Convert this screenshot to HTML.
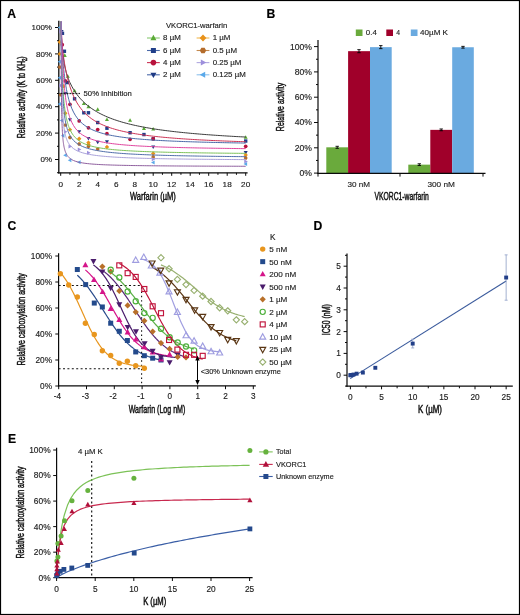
<!DOCTYPE html>
<html><head><meta charset="utf-8"><style>
html,body{margin:0;padding:0;background:#fff;overflow:hidden;}
#fig{position:relative;width:520px;height:615px;overflow:hidden;background:#fff;}
svg{position:absolute;left:0;top:0;will-change:transform;}
text{font-family:"Liberation Sans", sans-serif;}
</style></head><body><div id="fig">
<svg width="520" height="615" viewBox="0 0 520 615">
<rect x="0.5" y="0.5" width="519" height="614" fill="#fff" stroke="#000" stroke-width="1.2"/>
<text x="7.20" y="17.80" font-size="12.2" text-anchor="start" fill="#000" font-weight="bold" stroke="#000" stroke-width="0.15" >A</text>
<line x1="58.80" y1="20.80" x2="58.80" y2="173.40" stroke="#0a0a0a" stroke-width="1.3" />
<line x1="58.40" y1="172.80" x2="247.60" y2="172.80" stroke="#0a0a0a" stroke-width="1.2" />
<line x1="55.00" y1="159.50" x2="59.00" y2="159.50" stroke="#0a0a0a" stroke-width="1" />
<text x="52.00" y="162.10" font-size="7.4" text-anchor="end" fill="#222" font-weight="normal" textLength="11.56" lengthAdjust="spacingAndGlyphs" stroke="#222" stroke-width="0.15" >0%</text>
<line x1="55.00" y1="133.10" x2="59.00" y2="133.10" stroke="#0a0a0a" stroke-width="1" />
<text x="52.00" y="135.70" font-size="7.4" text-anchor="end" fill="#222" font-weight="normal" textLength="16.01" lengthAdjust="spacingAndGlyphs" stroke="#222" stroke-width="0.15" >20%</text>
<line x1="55.00" y1="106.70" x2="59.00" y2="106.70" stroke="#0a0a0a" stroke-width="1" />
<text x="52.00" y="109.30" font-size="7.4" text-anchor="end" fill="#222" font-weight="normal" textLength="16.01" lengthAdjust="spacingAndGlyphs" stroke="#222" stroke-width="0.15" >40%</text>
<line x1="55.00" y1="80.30" x2="59.00" y2="80.30" stroke="#0a0a0a" stroke-width="1" />
<text x="52.00" y="82.90" font-size="7.4" text-anchor="end" fill="#222" font-weight="normal" textLength="16.01" lengthAdjust="spacingAndGlyphs" stroke="#222" stroke-width="0.15" >60%</text>
<line x1="55.00" y1="53.90" x2="59.00" y2="53.90" stroke="#0a0a0a" stroke-width="1" />
<text x="52.00" y="56.50" font-size="7.4" text-anchor="end" fill="#222" font-weight="normal" textLength="16.01" lengthAdjust="spacingAndGlyphs" stroke="#222" stroke-width="0.15" >80%</text>
<line x1="55.00" y1="27.50" x2="59.00" y2="27.50" stroke="#0a0a0a" stroke-width="1" />
<text x="52.00" y="30.10" font-size="7.4" text-anchor="end" fill="#222" font-weight="normal" textLength="20.46" lengthAdjust="spacingAndGlyphs" stroke="#222" stroke-width="0.15" >100%</text>
<line x1="57.00" y1="172.70" x2="59.00" y2="172.70" stroke="#0a0a0a" stroke-width="1" />
<line x1="57.00" y1="146.30" x2="59.00" y2="146.30" stroke="#0a0a0a" stroke-width="1" />
<line x1="57.00" y1="119.90" x2="59.00" y2="119.90" stroke="#0a0a0a" stroke-width="1" />
<line x1="57.00" y1="93.50" x2="59.00" y2="93.50" stroke="#0a0a0a" stroke-width="1" />
<line x1="57.00" y1="67.10" x2="59.00" y2="67.10" stroke="#0a0a0a" stroke-width="1" />
<line x1="57.00" y1="40.70" x2="59.00" y2="40.70" stroke="#0a0a0a" stroke-width="1" />
<line x1="60.70" y1="172.80" x2="60.70" y2="175.80" stroke="#0a0a0a" stroke-width="1" />
<line x1="69.95" y1="172.80" x2="69.95" y2="174.80" stroke="#0a0a0a" stroke-width="1" />
<line x1="79.20" y1="172.80" x2="79.20" y2="175.80" stroke="#0a0a0a" stroke-width="1" />
<line x1="88.45" y1="172.80" x2="88.45" y2="174.80" stroke="#0a0a0a" stroke-width="1" />
<line x1="97.70" y1="172.80" x2="97.70" y2="175.80" stroke="#0a0a0a" stroke-width="1" />
<line x1="106.95" y1="172.80" x2="106.95" y2="174.80" stroke="#0a0a0a" stroke-width="1" />
<line x1="116.20" y1="172.80" x2="116.20" y2="175.80" stroke="#0a0a0a" stroke-width="1" />
<line x1="125.45" y1="172.80" x2="125.45" y2="174.80" stroke="#0a0a0a" stroke-width="1" />
<line x1="134.70" y1="172.80" x2="134.70" y2="175.80" stroke="#0a0a0a" stroke-width="1" />
<line x1="143.95" y1="172.80" x2="143.95" y2="174.80" stroke="#0a0a0a" stroke-width="1" />
<line x1="153.20" y1="172.80" x2="153.20" y2="175.80" stroke="#0a0a0a" stroke-width="1" />
<line x1="162.45" y1="172.80" x2="162.45" y2="174.80" stroke="#0a0a0a" stroke-width="1" />
<line x1="171.70" y1="172.80" x2="171.70" y2="175.80" stroke="#0a0a0a" stroke-width="1" />
<line x1="180.95" y1="172.80" x2="180.95" y2="174.80" stroke="#0a0a0a" stroke-width="1" />
<line x1="190.20" y1="172.80" x2="190.20" y2="175.80" stroke="#0a0a0a" stroke-width="1" />
<line x1="199.45" y1="172.80" x2="199.45" y2="174.80" stroke="#0a0a0a" stroke-width="1" />
<line x1="208.70" y1="172.80" x2="208.70" y2="175.80" stroke="#0a0a0a" stroke-width="1" />
<line x1="217.95" y1="172.80" x2="217.95" y2="174.80" stroke="#0a0a0a" stroke-width="1" />
<line x1="227.20" y1="172.80" x2="227.20" y2="175.80" stroke="#0a0a0a" stroke-width="1" />
<line x1="236.45" y1="172.80" x2="236.45" y2="174.80" stroke="#0a0a0a" stroke-width="1" />
<line x1="245.70" y1="172.80" x2="245.70" y2="175.80" stroke="#0a0a0a" stroke-width="1" />
<text x="60.70" y="186.70" font-size="7.4" text-anchor="middle" fill="#222" font-weight="normal" textLength="4.56" lengthAdjust="spacingAndGlyphs" stroke="#222" stroke-width="0.15" >0</text>
<text x="79.20" y="186.70" font-size="7.4" text-anchor="middle" fill="#222" font-weight="normal" textLength="4.56" lengthAdjust="spacingAndGlyphs" stroke="#222" stroke-width="0.15" >2</text>
<text x="97.70" y="186.70" font-size="7.4" text-anchor="middle" fill="#222" font-weight="normal" textLength="4.56" lengthAdjust="spacingAndGlyphs" stroke="#222" stroke-width="0.15" >4</text>
<text x="116.20" y="186.70" font-size="7.4" text-anchor="middle" fill="#222" font-weight="normal" textLength="4.56" lengthAdjust="spacingAndGlyphs" stroke="#222" stroke-width="0.15" >6</text>
<text x="134.70" y="186.70" font-size="7.4" text-anchor="middle" fill="#222" font-weight="normal" textLength="4.56" lengthAdjust="spacingAndGlyphs" stroke="#222" stroke-width="0.15" >8</text>
<text x="153.20" y="186.70" font-size="7.4" text-anchor="middle" fill="#222" font-weight="normal" textLength="9.12" lengthAdjust="spacingAndGlyphs" stroke="#222" stroke-width="0.15" >10</text>
<text x="171.70" y="186.70" font-size="7.4" text-anchor="middle" fill="#222" font-weight="normal" textLength="9.12" lengthAdjust="spacingAndGlyphs" stroke="#222" stroke-width="0.15" >12</text>
<text x="190.20" y="186.70" font-size="7.4" text-anchor="middle" fill="#222" font-weight="normal" textLength="9.12" lengthAdjust="spacingAndGlyphs" stroke="#222" stroke-width="0.15" >14</text>
<text x="208.70" y="186.70" font-size="7.4" text-anchor="middle" fill="#222" font-weight="normal" textLength="9.12" lengthAdjust="spacingAndGlyphs" stroke="#222" stroke-width="0.15" >16</text>
<text x="227.20" y="186.70" font-size="7.4" text-anchor="middle" fill="#222" font-weight="normal" textLength="9.12" lengthAdjust="spacingAndGlyphs" stroke="#222" stroke-width="0.15" >18</text>
<text x="245.70" y="186.70" font-size="7.4" text-anchor="middle" fill="#222" font-weight="normal" textLength="9.12" lengthAdjust="spacingAndGlyphs" stroke="#222" stroke-width="0.15" >20</text>
<text x="152.90" y="199.60" font-size="10.4" text-anchor="middle" fill="#111" font-weight="normal" textLength="45.80" lengthAdjust="spacingAndGlyphs" stroke="#111" stroke-width="0.45" >Warfarin (µM)</text>
<text transform="translate(21.20,97.30) rotate(-90)" x="0" y="3.82" font-size="10.6" text-anchor="middle" fill="#111" font-weight="normal" textLength="82.00" lengthAdjust="spacingAndGlyphs" stroke="#111" stroke-width="0.45">Relative activity (K to KH<tspan font-size="6.5" dy="1.8">2</tspan><tspan dy="-1.8">)</tspan></text>
<text x="83.60" y="96.20" font-size="7.7" text-anchor="start" fill="#222" font-weight="normal" textLength="48.20" lengthAdjust="spacingAndGlyphs" stroke="#222" stroke-width="0.15" >50% Inhibition</text>
<polygon points="64.77,53.32 66.77,56.92 62.77,56.92" fill="#5aaa35" stroke="none" stroke-width="0" stroke-linejoin="miter"/>
<polygon points="67.82,74.18 69.82,77.78 65.82,77.78" fill="#5aaa35" stroke="none" stroke-width="0" stroke-linejoin="miter"/>
<polygon points="74.58,88.70 76.58,92.30 72.58,92.30" fill="#5aaa35" stroke="none" stroke-width="0" stroke-linejoin="miter"/>
<polygon points="83.83,101.50 85.83,105.10 81.83,105.10" fill="#5aaa35" stroke="none" stroke-width="0" stroke-linejoin="miter"/>
<polygon points="88.45,104.54 90.45,108.14 86.45,108.14" fill="#5aaa35" stroke="none" stroke-width="0" stroke-linejoin="miter"/>
<polygon points="97.70,107.31 99.70,110.91 95.70,110.91" fill="#5aaa35" stroke="none" stroke-width="0" stroke-linejoin="miter"/>
<polygon points="106.95,117.48 108.95,121.08 104.95,121.08" fill="#5aaa35" stroke="none" stroke-width="0" stroke-linejoin="miter"/>
<polygon points="130.07,118.27 132.07,121.87 128.07,121.87" fill="#5aaa35" stroke="none" stroke-width="0" stroke-linejoin="miter"/>
<polygon points="143.95,126.32 145.95,129.92 141.95,129.92" fill="#5aaa35" stroke="none" stroke-width="0" stroke-linejoin="miter"/>
<polygon points="153.20,126.98 155.20,130.58 151.20,130.58" fill="#5aaa35" stroke="none" stroke-width="0" stroke-linejoin="miter"/>
<polygon points="245.70,135.16 247.70,138.76 243.70,138.76" fill="#5aaa35" stroke="none" stroke-width="0" stroke-linejoin="miter"/>
<rect x="60.76" y="31.61" width="3.4" height="3.4" fill="#213f8a" stroke="none" stroke-width="0"/>
<rect x="62.70" y="49.56" width="3.4" height="3.4" fill="#213f8a" stroke="none" stroke-width="0"/>
<rect x="65.66" y="80.84" width="3.4" height="3.4" fill="#213f8a" stroke="none" stroke-width="0"/>
<rect x="72.88" y="97.08" width="3.4" height="3.4" fill="#213f8a" stroke="none" stroke-width="0"/>
<rect x="82.12" y="111.07" width="3.4" height="3.4" fill="#213f8a" stroke="none" stroke-width="0"/>
<rect x="86.75" y="111.07" width="3.4" height="3.4" fill="#213f8a" stroke="none" stroke-width="0"/>
<rect x="96.00" y="120.84" width="3.4" height="3.4" fill="#213f8a" stroke="none" stroke-width="0"/>
<rect x="105.25" y="126.52" width="3.4" height="3.4" fill="#213f8a" stroke="none" stroke-width="0"/>
<rect x="128.38" y="131.00" width="3.4" height="3.4" fill="#213f8a" stroke="none" stroke-width="0"/>
<rect x="142.25" y="132.85" width="3.4" height="3.4" fill="#213f8a" stroke="none" stroke-width="0"/>
<rect x="151.50" y="137.08" width="3.4" height="3.4" fill="#213f8a" stroke="none" stroke-width="0"/>
<rect x="244.00" y="139.32" width="3.4" height="3.4" fill="#213f8a" stroke="none" stroke-width="0"/>
<circle cx="62.27" cy="44.66" r="1.85" fill="#b8123c" stroke="none" stroke-width="0"/>
<circle cx="65.33" cy="80.96" r="1.85" fill="#b8123c" stroke="none" stroke-width="0"/>
<circle cx="69.95" cy="104.32" r="1.85" fill="#b8123c" stroke="none" stroke-width="0"/>
<circle cx="79.20" cy="120.96" r="1.85" fill="#b8123c" stroke="none" stroke-width="0"/>
<circle cx="88.45" cy="127.82" r="1.85" fill="#b8123c" stroke="none" stroke-width="0"/>
<circle cx="97.70" cy="129.54" r="1.85" fill="#b8123c" stroke="none" stroke-width="0"/>
<circle cx="106.95" cy="133.63" r="1.85" fill="#b8123c" stroke="none" stroke-width="0"/>
<circle cx="130.07" cy="139.30" r="1.85" fill="#b8123c" stroke="none" stroke-width="0"/>
<circle cx="153.20" cy="138.78" r="1.85" fill="#b8123c" stroke="none" stroke-width="0"/>
<circle cx="245.70" cy="146.30" r="1.85" fill="#b8123c" stroke="none" stroke-width="0"/>
<polygon points="61.62,33.62 63.62,30.02 59.62,30.02" fill="#1e3a84" stroke="none" stroke-width="0" stroke-linejoin="miter"/>
<polygon points="65.33,95.66 67.33,92.06 63.33,92.06" fill="#1e3a84" stroke="none" stroke-width="0" stroke-linejoin="miter"/>
<polygon points="69.95,121.80 71.95,118.20 67.95,118.20" fill="#1e3a84" stroke="none" stroke-width="0" stroke-linejoin="miter"/>
<polygon points="79.20,133.94 81.20,130.34 77.20,130.34" fill="#1e3a84" stroke="none" stroke-width="0" stroke-linejoin="miter"/>
<polygon points="88.45,140.54 90.45,136.94 86.45,136.94" fill="#1e3a84" stroke="none" stroke-width="0" stroke-linejoin="miter"/>
<polygon points="97.70,144.24 99.70,140.64 95.70,140.64" fill="#1e3a84" stroke="none" stroke-width="0" stroke-linejoin="miter"/>
<polygon points="106.95,143.97 108.95,140.37 104.95,140.37" fill="#1e3a84" stroke="none" stroke-width="0" stroke-linejoin="miter"/>
<polygon points="153.20,149.12 155.20,145.52 151.20,145.52" fill="#1e3a84" stroke="none" stroke-width="0" stroke-linejoin="miter"/>
<polygon points="245.70,154.66 247.70,151.06 243.70,151.06" fill="#1e3a84" stroke="none" stroke-width="0" stroke-linejoin="miter"/>
<polygon points="59.78,39.82 61.98,42.02 59.78,44.22 57.58,42.02" fill="#e8921a" stroke="none" stroke-width="0" stroke-linejoin="miter"/>
<polygon points="59.78,51.70 61.98,53.90 59.78,56.10 57.58,53.90" fill="#e8921a" stroke="none" stroke-width="0" stroke-linejoin="miter"/>
<polygon points="63.29,84.04 65.49,86.24 63.29,88.44 61.09,86.24" fill="#e8921a" stroke="none" stroke-width="0" stroke-linejoin="miter"/>
<polygon points="65.33,111.10 67.53,113.30 65.33,115.50 63.12,113.30" fill="#e8921a" stroke="none" stroke-width="0" stroke-linejoin="miter"/>
<polygon points="69.95,127.47 72.15,129.67 69.95,131.87 67.75,129.67" fill="#e8921a" stroke="none" stroke-width="0" stroke-linejoin="miter"/>
<polygon points="79.20,136.58 81.40,138.78 79.20,140.98 77.00,138.78" fill="#e8921a" stroke="none" stroke-width="0" stroke-linejoin="miter"/>
<polygon points="88.45,142.25 90.65,144.45 88.45,146.65 86.25,144.45" fill="#e8921a" stroke="none" stroke-width="0" stroke-linejoin="miter"/>
<polygon points="88.45,140.40 90.65,142.60 88.45,144.80 86.25,142.60" fill="#e8921a" stroke="none" stroke-width="0" stroke-linejoin="miter"/>
<polygon points="106.95,144.76 109.15,146.96 106.95,149.16 104.75,146.96" fill="#e8921a" stroke="none" stroke-width="0" stroke-linejoin="miter"/>
<polygon points="153.20,151.36 155.40,153.56 153.20,155.76 151.00,153.56" fill="#e8921a" stroke="none" stroke-width="0" stroke-linejoin="miter"/>
<polygon points="245.70,152.81 247.90,155.01 245.70,157.21 243.50,155.01" fill="#e8921a" stroke="none" stroke-width="0" stroke-linejoin="miter"/>
<polygon points="61.73,67.10 60.75,68.79 58.80,68.79 57.83,67.10 58.80,65.41 60.75,65.41" fill="#b46c2c" stroke="none" stroke-width="0" stroke-linejoin="miter"/>
<polygon points="62.65,94.82 61.68,96.51 59.73,96.51 58.75,94.82 59.73,93.13 61.68,93.13" fill="#b46c2c" stroke="none" stroke-width="0" stroke-linejoin="miter"/>
<polygon points="67.28,125.18 66.30,126.87 64.35,126.87 63.38,125.18 64.35,123.49 66.30,123.49" fill="#b46c2c" stroke="none" stroke-width="0" stroke-linejoin="miter"/>
<polygon points="71.90,137.46 70.92,139.14 68.98,139.14 68.00,137.46 68.98,135.77 70.92,135.77" fill="#b46c2c" stroke="none" stroke-width="0" stroke-linejoin="miter"/>
<polygon points="81.15,144.06 80.17,145.74 78.23,145.74 77.25,144.06 78.23,142.37 80.17,142.37" fill="#b46c2c" stroke="none" stroke-width="0" stroke-linejoin="miter"/>
<polygon points="90.40,146.30 89.42,147.99 87.48,147.99 86.50,146.30 87.48,144.61 89.42,144.61" fill="#b46c2c" stroke="none" stroke-width="0" stroke-linejoin="miter"/>
<polygon points="99.65,148.94 98.67,150.63 96.73,150.63 95.75,148.94 96.73,147.25 98.67,147.25" fill="#b46c2c" stroke="none" stroke-width="0" stroke-linejoin="miter"/>
<polygon points="155.15,156.99 154.17,158.68 152.22,158.68 151.25,156.99 152.22,155.30 154.17,155.30" fill="#b46c2c" stroke="none" stroke-width="0" stroke-linejoin="miter"/>
<polygon points="247.65,158.05 246.67,159.74 244.72,159.74 243.75,158.05 244.72,156.36 246.67,156.36" fill="#b46c2c" stroke="none" stroke-width="0" stroke-linejoin="miter"/>
<polygon points="62.86,31.46 59.26,29.46 59.26,33.46" fill="#9d8fdc" stroke="none" stroke-width="0" stroke-linejoin="miter"/>
<polygon points="62.86,85.58 59.26,83.58 59.26,87.58" fill="#9d8fdc" stroke="none" stroke-width="0" stroke-linejoin="miter"/>
<polygon points="67.48,131.78 63.89,129.78 63.89,133.78" fill="#9d8fdc" stroke="none" stroke-width="0" stroke-linejoin="miter"/>
<polygon points="72.11,146.56 68.51,144.56 68.51,148.56" fill="#9d8fdc" stroke="none" stroke-width="0" stroke-linejoin="miter"/>
<polygon points="81.36,149.60 77.76,147.60 77.76,151.60" fill="#9d8fdc" stroke="none" stroke-width="0" stroke-linejoin="miter"/>
<polygon points="90.61,152.77 87.01,150.77 87.01,154.77" fill="#9d8fdc" stroke="none" stroke-width="0" stroke-linejoin="miter"/>
<polygon points="155.36,159.24 151.76,157.24 151.76,161.24" fill="#9d8fdc" stroke="none" stroke-width="0" stroke-linejoin="miter"/>
<polygon points="247.86,161.48 244.26,159.48 244.26,163.48" fill="#9d8fdc" stroke="none" stroke-width="0" stroke-linejoin="miter"/>
<polygon points="57.62,27.50 61.22,25.50 61.22,29.50" fill="#5aa9ea" stroke="none" stroke-width="0" stroke-linejoin="miter"/>
<polygon points="57.62,61.82 61.22,59.82 61.22,63.82" fill="#5aa9ea" stroke="none" stroke-width="0" stroke-linejoin="miter"/>
<polygon points="57.62,77.66 61.22,75.66 61.22,79.66" fill="#5aa9ea" stroke="none" stroke-width="0" stroke-linejoin="miter"/>
<polygon points="57.62,104.06 61.22,102.06 61.22,106.06" fill="#5aa9ea" stroke="none" stroke-width="0" stroke-linejoin="miter"/>
<polygon points="59.74,120.56 63.34,118.56 63.34,122.56" fill="#5aa9ea" stroke="none" stroke-width="0" stroke-linejoin="miter"/>
<polygon points="60.85,135.74 64.45,133.74 64.45,137.74" fill="#5aa9ea" stroke="none" stroke-width="0" stroke-linejoin="miter"/>
<polygon points="63.17,155.14 66.77,153.14 66.77,157.14" fill="#5aa9ea" stroke="none" stroke-width="0" stroke-linejoin="miter"/>
<polygon points="67.79,160.29 71.39,158.29 71.39,162.29" fill="#5aa9ea" stroke="none" stroke-width="0" stroke-linejoin="miter"/>
<polygon points="77.04,162.27 80.64,160.27 80.64,164.27" fill="#5aa9ea" stroke="none" stroke-width="0" stroke-linejoin="miter"/>
<polygon points="151.04,162.40 154.64,160.40 154.64,164.40" fill="#5aa9ea" stroke="none" stroke-width="0" stroke-linejoin="miter"/>
<polygon points="243.54,163.99 247.14,161.99 247.14,165.99" fill="#5aa9ea" stroke="none" stroke-width="0" stroke-linejoin="miter"/>
<path d="M61.00,21.56 L61.00,21.86 L61.02,22.37 L61.03,22.88 L61.05,23.41 L61.06,23.96 L61.08,24.52 L61.10,25.09 L61.12,25.68 L61.14,26.29 L61.16,26.91 L61.18,27.54 L61.20,28.19 L61.22,28.85 L61.25,29.53 L61.28,30.22 L61.30,30.93 L61.33,31.64 L61.36,32.37 L61.39,33.12 L61.43,33.87 L61.46,34.64 L61.50,35.42 L61.53,36.21 L61.57,37.01 L61.61,37.82 L61.66,38.64 L61.70,39.46 L61.75,40.30 L61.80,41.14 L61.85,41.99 L61.91,42.85 L61.96,43.72 L62.02,44.59 L62.09,45.46 L62.15,46.34 L62.22,47.22 L62.29,48.11 L62.37,49.00 L62.45,49.89 L62.53,50.78 L62.62,51.68 L62.71,52.58 L62.80,53.47 L62.90,54.37 L63.01,55.27 L63.12,56.17 L63.23,57.07 L63.35,57.97 L63.48,58.87 L63.61,59.77 L63.75,60.67 L63.89,61.57 L64.04,62.47 L64.20,63.37 L64.37,64.27 L64.54,65.16 L64.72,66.06 L64.91,66.96 L65.11,67.86 L65.32,68.76 L65.54,69.67 L65.77,70.57 L66.01,71.47 L66.26,72.38 L66.52,73.29 L66.80,74.20 L67.09,75.12 L67.39,76.04 L67.71,76.96 L68.04,77.88 L68.39,78.81 L68.75,79.75 L69.13,80.69 L69.53,81.63 L69.95,82.58 L71.73,86.21 L73.50,89.36 L75.28,92.14 L77.05,94.63 L78.83,96.87 L80.60,98.91 L82.38,100.78 L84.15,102.50 L85.93,104.10 L87.70,105.57 L89.48,106.95 L91.25,108.24 L93.03,109.44 L94.80,110.57 L96.58,111.64 L98.35,112.64 L100.13,113.59 L101.90,114.48 L103.68,115.34 L105.46,116.14 L107.23,116.91 L109.01,117.64 L110.78,118.34 L112.56,119.00 L114.33,119.64 L116.11,120.24 L117.88,120.82 L119.66,121.38 L121.43,121.91 L123.21,122.43 L124.98,122.92 L126.76,123.39 L128.53,123.85 L130.31,124.29 L132.08,124.71 L133.86,125.12 L135.63,125.51 L137.41,125.89 L139.18,126.26 L140.96,126.62 L142.74,126.96 L144.51,127.29 L146.29,127.61 L148.06,127.93 L149.84,128.23 L151.61,128.52 L153.39,128.81 L155.16,129.08 L156.94,129.35 L158.71,129.61 L160.49,129.87 L162.26,130.11 L164.04,130.35 L165.81,130.59 L167.59,130.81 L169.36,131.03 L171.14,131.25 L172.91,131.46 L174.69,131.66 L176.47,131.86 L178.24,132.06 L180.02,132.25 L181.79,132.43 L183.57,132.61 L185.34,132.79 L187.12,132.96 L188.89,133.13 L190.67,133.30 L192.44,133.46 L194.22,133.62 L195.99,133.77 L197.77,133.92 L199.54,134.07 L201.32,134.21 L203.09,134.36 L204.87,134.49 L206.64,134.63 L208.42,134.76 L210.19,134.89 L211.97,135.02 L213.75,135.15 L215.52,135.27 L217.30,135.39 L219.07,135.51 L220.85,135.62 L222.62,135.74 L224.40,135.85 L226.17,135.96 L227.95,136.07 L229.72,136.17 L231.50,136.28 L233.27,136.38 L235.05,136.48 L236.82,136.58 L238.60,136.67 L240.37,136.77 L242.15,136.86 L243.92,136.95 L245.70,137.04" stroke="#3a3a3a" stroke-width="1.0" fill="none" stroke-linejoin="round" />
<path d="M60.92,21.56 L60.92,21.61 L60.93,22.36 L60.94,23.10 L60.95,23.80 L60.96,24.49 L60.97,25.16 L60.99,25.81 L61.00,26.44 L61.02,27.05 L61.03,27.65 L61.05,28.24 L61.06,28.82 L61.08,29.38 L61.10,29.93 L61.12,30.48 L61.14,31.02 L61.16,31.55 L61.18,32.07 L61.20,32.59 L61.22,33.11 L61.25,33.62 L61.28,34.14 L61.30,34.65 L61.33,35.16 L61.36,35.67 L61.39,36.18 L61.43,36.70 L61.46,37.22 L61.50,37.75 L61.53,38.28 L61.57,38.81 L61.61,39.35 L61.66,39.91 L61.70,40.47 L61.75,41.03 L61.80,41.61 L61.85,42.20 L61.91,42.80 L61.96,43.42 L62.02,44.04 L62.09,44.68 L62.15,45.34 L62.22,46.01 L62.29,46.69 L62.37,47.40 L62.45,48.12 L62.53,48.85 L62.62,49.61 L62.71,50.38 L62.80,51.17 L62.90,51.98 L63.01,52.82 L63.12,53.67 L63.23,54.54 L63.35,55.43 L63.48,56.35 L63.61,57.28 L63.75,58.24 L63.89,59.21 L64.04,60.21 L64.20,61.23 L64.37,62.27 L64.54,63.33 L64.72,64.42 L64.91,65.52 L65.11,66.64 L65.32,67.78 L65.54,68.94 L65.77,70.12 L66.01,71.32 L66.26,72.53 L66.52,73.76 L66.80,75.00 L67.09,76.26 L67.39,77.53 L67.71,78.82 L68.04,80.11 L68.39,81.41 L68.75,82.73 L69.13,84.05 L69.53,85.37 L69.95,86.70 L71.73,91.77 L73.50,96.05 L75.28,99.73 L77.05,102.92 L78.83,105.71 L80.60,108.18 L82.38,110.37 L84.15,112.34 L85.93,114.11 L87.70,115.71 L89.48,117.17 L91.25,118.50 L93.03,119.72 L94.80,120.84 L96.58,121.88 L98.35,122.84 L100.13,123.73 L101.90,124.56 L103.68,125.34 L105.46,126.06 L107.23,126.74 L109.01,127.38 L110.78,127.99 L112.56,128.55 L114.33,129.09 L116.11,129.60 L117.88,130.08 L119.66,130.54 L121.43,130.97 L123.21,131.38 L124.98,131.78 L126.76,132.15 L128.53,132.51 L130.31,132.85 L132.08,133.18 L133.86,133.49 L135.63,133.79 L137.41,134.08 L139.18,134.35 L140.96,134.62 L142.74,134.88 L144.51,135.12 L146.29,135.36 L148.06,135.59 L149.84,135.81 L151.61,136.02 L153.39,136.22 L155.16,136.42 L156.94,136.61 L158.71,136.80 L160.49,136.98 L162.26,137.15 L164.04,137.32 L165.81,137.48 L167.59,137.64 L169.36,137.80 L171.14,137.94 L172.91,138.09 L174.69,138.23 L176.47,138.37 L178.24,138.50 L180.02,138.63 L181.79,138.75 L183.57,138.88 L185.34,138.99 L187.12,139.11 L188.89,139.22 L190.67,139.33 L192.44,139.44 L194.22,139.55 L195.99,139.65 L197.77,139.75 L199.54,139.85 L201.32,139.94 L203.09,140.03 L204.87,140.12 L206.64,140.21 L208.42,140.30 L210.19,140.38 L211.97,140.47 L213.75,140.55 L215.52,140.63 L217.30,140.71 L219.07,140.78 L220.85,140.86 L222.62,140.93 L224.40,141.00 L226.17,141.07 L227.95,141.14 L229.72,141.21 L231.50,141.27 L233.27,141.34 L235.05,141.40 L236.82,141.46 L238.60,141.52 L240.37,141.58 L242.15,141.64 L243.92,141.70 L245.70,141.76" stroke="#cc3355" stroke-width="1.0" fill="none" stroke-linejoin="round" />
<path d="M60.94,21.56 L60.94,21.75 L60.95,22.27 L60.96,22.78 L60.97,23.29 L60.99,23.81 L61.00,24.33 L61.02,24.85 L61.03,25.38 L61.05,25.91 L61.06,26.45 L61.08,27.00 L61.10,27.56 L61.12,28.12 L61.14,28.70 L61.16,29.28 L61.18,29.88 L61.20,30.49 L61.22,31.11 L61.25,31.75 L61.28,32.40 L61.30,33.07 L61.33,33.75 L61.36,34.45 L61.39,35.17 L61.43,35.90 L61.46,36.65 L61.50,37.43 L61.53,38.22 L61.57,39.03 L61.61,39.87 L61.66,40.72 L61.70,41.60 L61.75,42.50 L61.80,43.42 L61.85,44.36 L61.91,45.33 L61.96,46.32 L62.02,47.34 L62.09,48.38 L62.15,49.44 L62.22,50.53 L62.29,51.64 L62.37,52.77 L62.45,53.93 L62.53,55.10 L62.62,56.31 L62.71,57.53 L62.80,58.77 L62.90,60.04 L63.01,61.32 L63.12,62.63 L63.23,63.95 L63.35,65.29 L63.48,66.65 L63.61,68.02 L63.75,69.41 L63.89,70.81 L64.04,72.23 L64.20,73.65 L64.37,75.08 L64.54,76.52 L64.72,77.97 L64.91,79.42 L65.11,80.88 L65.32,82.34 L65.54,83.79 L65.77,85.25 L66.01,86.71 L66.26,88.16 L66.52,89.61 L66.80,91.04 L67.09,92.48 L67.39,93.90 L67.71,95.31 L68.04,96.70 L68.39,98.09 L68.75,99.45 L69.13,100.81 L69.53,102.14 L69.95,103.46 L71.73,108.27 L73.50,112.10 L75.28,115.24 L77.05,117.84 L78.83,120.04 L80.60,121.93 L82.38,123.56 L84.15,124.98 L85.93,126.24 L87.70,127.36 L89.48,128.36 L91.25,129.26 L93.03,130.07 L94.80,130.81 L96.58,131.48 L98.35,132.10 L100.13,132.67 L101.90,133.19 L103.68,133.68 L105.46,134.13 L107.23,134.54 L109.01,134.94 L110.78,135.30 L112.56,135.64 L114.33,135.97 L116.11,136.27 L117.88,136.55 L119.66,136.82 L121.43,137.08 L123.21,137.32 L124.98,137.55 L126.76,137.77 L128.53,137.98 L130.31,138.17 L132.08,138.36 L133.86,138.54 L135.63,138.71 L137.41,138.88 L139.18,139.03 L140.96,139.18 L142.74,139.33 L144.51,139.47 L146.29,139.60 L148.06,139.73 L149.84,139.85 L151.61,139.97 L153.39,140.08 L155.16,140.19 L156.94,140.30 L158.71,140.40 L160.49,140.50 L162.26,140.60 L164.04,140.69 L165.81,140.78 L167.59,140.86 L169.36,140.95 L171.14,141.03 L172.91,141.11 L174.69,141.19 L176.47,141.26 L178.24,141.33 L180.02,141.40 L181.79,141.47 L183.57,141.54 L185.34,141.60 L187.12,141.66 L188.89,141.73 L190.67,141.78 L192.44,141.84 L194.22,141.90 L195.99,141.95 L197.77,142.01 L199.54,142.06 L201.32,142.11 L203.09,142.16 L204.87,142.21 L206.64,142.26 L208.42,142.30 L210.19,142.35 L211.97,142.39 L213.75,142.44 L215.52,142.48 L217.30,142.52 L219.07,142.56 L220.85,142.60 L222.62,142.64 L224.40,142.68 L226.17,142.71 L227.95,142.75 L229.72,142.79 L231.50,142.82 L233.27,142.85 L235.05,142.89 L236.82,142.92 L238.60,142.95 L240.37,142.98 L242.15,143.02 L243.92,143.05 L245.70,143.08" stroke="#4a69a8" stroke-width="1.0" fill="none" stroke-linejoin="round" />
<path d="M61.39,21.56 L61.39,22.84 L61.43,24.24 L61.46,25.67 L61.50,27.14 L61.53,28.64 L61.57,30.18 L61.61,31.74 L61.66,33.34 L61.70,34.96 L61.75,36.62 L61.80,38.30 L61.85,40.01 L61.91,41.75 L61.96,43.51 L62.02,45.30 L62.09,47.10 L62.15,48.93 L62.22,50.78 L62.29,52.64 L62.37,54.52 L62.45,56.41 L62.53,58.31 L62.62,60.23 L62.71,62.15 L62.80,64.07 L62.90,66.00 L63.01,67.93 L63.12,69.86 L63.23,71.79 L63.35,73.71 L63.48,75.62 L63.61,77.53 L63.75,79.42 L63.89,81.31 L64.04,83.17 L64.20,85.03 L64.37,86.86 L64.54,88.67 L64.72,90.46 L64.91,92.23 L65.11,93.98 L65.32,95.70 L65.54,97.39 L65.77,99.05 L66.01,100.69 L66.26,102.29 L66.52,103.87 L66.80,105.41 L67.09,106.92 L67.39,108.40 L67.71,109.84 L68.04,111.25 L68.39,112.63 L68.75,113.97 L69.13,115.27 L69.53,116.55 L69.95,117.79 L71.73,122.18 L73.50,125.53 L75.28,128.18 L77.05,130.32 L78.83,132.09 L80.60,133.58 L82.38,134.85 L84.15,135.94 L85.93,136.89 L87.70,137.72 L89.48,138.46 L91.25,139.12 L93.03,139.71 L94.80,140.25 L96.58,140.73 L98.35,141.17 L100.13,141.58 L101.90,141.95 L103.68,142.29 L105.46,142.61 L107.23,142.90 L109.01,143.17 L110.78,143.43 L112.56,143.66 L114.33,143.88 L116.11,144.09 L117.88,144.29 L119.66,144.47 L121.43,144.65 L123.21,144.81 L124.98,144.97 L126.76,145.12 L128.53,145.26 L130.31,145.39 L132.08,145.52 L133.86,145.64 L135.63,145.75 L137.41,145.86 L139.18,145.97 L140.96,146.07 L142.74,146.17 L144.51,146.26 L146.29,146.35 L148.06,146.43 L149.84,146.52 L151.61,146.59 L153.39,146.67 L155.16,146.74 L156.94,146.81 L158.71,146.88 L160.49,146.95 L162.26,147.01 L164.04,147.07 L165.81,147.13 L167.59,147.19 L169.36,147.25 L171.14,147.30 L172.91,147.35 L174.69,147.40 L176.47,147.45 L178.24,147.50 L180.02,147.54 L181.79,147.59 L183.57,147.63 L185.34,147.67 L187.12,147.72 L188.89,147.76 L190.67,147.79 L192.44,147.83 L194.22,147.87 L195.99,147.91 L197.77,147.94 L199.54,147.98 L201.32,148.01 L203.09,148.04 L204.87,148.07 L206.64,148.10 L208.42,148.13 L210.19,148.16 L211.97,148.19 L213.75,148.22 L215.52,148.25 L217.30,148.27 L219.07,148.30 L220.85,148.33 L222.62,148.35 L224.40,148.38 L226.17,148.40 L227.95,148.42 L229.72,148.45 L231.50,148.47 L233.27,148.49 L235.05,148.51 L236.82,148.54 L238.60,148.56 L240.37,148.58 L242.15,148.60 L243.92,148.62 L245.70,148.64" stroke="#e0449e" stroke-width="1.0" fill="none" stroke-linejoin="round" />
<path d="M60.70,21.56 L60.70,21.56 L60.70,21.57 L60.70,21.57 L60.70,21.58 L60.70,21.58 L60.70,21.59 L60.70,21.59 L60.70,21.60 L60.70,21.60 L60.70,21.61 L60.70,21.61 L60.70,21.62 L60.70,21.62 L60.70,21.63 L60.70,21.64 L60.70,21.65 L60.70,21.65 L60.70,21.66 L60.70,21.67 L60.70,21.68 L60.70,21.69 L60.70,21.70 L60.70,21.71 L60.70,21.72 L60.70,21.73 L60.70,21.74 L60.70,21.76 L60.70,21.77 L60.70,21.78 L60.71,21.80 L60.71,21.81 L60.71,21.83 L60.71,21.84 L60.71,21.86 L60.71,21.88 L60.71,21.90 L60.71,21.92 L60.71,21.94 L60.71,21.96 L60.71,21.98 L60.71,22.00 L60.71,22.03 L60.71,22.05 L60.71,22.08 L60.71,22.11 L60.71,22.14 L60.71,22.17 L60.71,22.20 L60.71,22.24 L60.71,22.27 L60.71,22.31 L60.71,22.35 L60.71,22.39 L60.72,22.43 L60.72,22.48 L60.72,22.52 L60.72,22.57 L60.72,22.62 L60.72,22.68 L60.72,22.73 L60.72,22.79 L60.72,22.85 L60.72,22.92 L60.72,22.99 L60.73,23.06 L60.73,23.13 L60.73,23.21 L60.73,23.29 L60.73,23.37 L60.73,23.46 L60.73,23.55 L60.74,23.65 L60.74,23.75 L60.74,23.86 L60.74,23.97 L60.74,24.08 L60.75,24.20 L60.75,24.33 L60.75,24.46 L60.75,24.60 L60.75,24.74 L60.76,24.89 L60.76,25.05 L60.76,25.21 L60.77,25.39 L60.77,25.57 L60.77,25.75 L60.78,25.95 L60.78,26.15 L60.78,26.37 L60.79,26.59 L60.79,26.82 L60.79,27.06 L60.80,27.32 L60.80,27.58 L60.81,27.85 L60.81,28.14 L60.82,28.44 L60.82,28.75 L60.83,29.08 L60.84,29.41 L60.84,29.77 L60.85,30.13 L60.86,30.52 L60.86,30.91 L60.87,31.33 L60.88,31.76 L60.89,32.21 L60.90,32.67 L60.91,33.16 L60.92,33.66 L60.93,34.18 L60.94,34.72 L60.95,35.28 L60.96,35.87 L60.97,36.47 L60.99,37.10 L61.00,37.75 L61.02,38.42 L61.03,39.12 L61.05,39.84 L61.06,40.58 L61.08,41.35 L61.10,42.15 L61.12,42.97 L61.14,43.82 L61.16,44.69 L61.18,45.59 L61.20,46.52 L61.22,47.48 L61.25,48.46 L61.28,49.47 L61.30,50.51 L61.33,51.57 L61.36,52.66 L61.39,53.78 L61.43,54.93 L61.46,56.10 L61.50,57.30 L61.53,58.53 L61.57,59.78 L61.61,61.06 L61.66,62.36 L61.70,63.68 L61.75,65.03 L61.80,66.39 L61.85,67.78 L61.91,69.19 L61.96,70.62 L62.02,72.07 L62.09,73.53 L62.15,75.00 L62.22,76.49 L62.29,78.00 L62.37,79.51 L62.45,81.03 L62.53,82.56 L62.62,84.10 L62.71,85.64 L62.80,87.18 L62.90,88.72 L63.01,90.27 L63.12,91.81 L63.23,93.34 L63.35,94.88 L63.48,96.40 L63.61,97.92 L63.75,99.42 L63.89,100.92 L64.04,102.40 L64.20,103.86 L64.37,105.31 L64.54,106.75 L64.72,108.16 L64.91,109.56 L65.11,110.93 L65.32,112.29 L65.54,113.62 L65.77,114.93 L66.01,116.21 L66.26,117.47 L66.52,118.70 L66.80,119.91 L67.09,121.09 L67.39,122.25 L67.71,123.38 L68.04,124.48 L68.39,125.55 L68.75,126.60 L69.13,127.61 L69.53,128.61 L69.95,129.57 L71.73,132.98 L73.50,135.58 L75.28,137.63 L77.05,139.29 L78.83,140.65 L80.60,141.80 L82.38,142.78 L84.15,143.62 L85.93,144.35 L87.70,144.99 L89.48,145.56 L91.25,146.07 L93.03,146.52 L94.80,146.93 L96.58,147.30 L98.35,147.64 L100.13,147.95 L101.90,148.24 L103.68,148.50 L105.46,148.74 L107.23,148.97 L109.01,149.18 L110.78,149.37 L112.56,149.55 L114.33,149.72 L116.11,149.88 L117.88,150.03 L119.66,150.18 L121.43,150.31 L123.21,150.44 L124.98,150.56 L126.76,150.67 L128.53,150.78 L130.31,150.88 L132.08,150.98 L133.86,151.07 L135.63,151.16 L137.41,151.24 L139.18,151.32 L140.96,151.40 L142.74,151.47 L144.51,151.54 L146.29,151.61 L148.06,151.68 L149.84,151.74 L151.61,151.80 L153.39,151.86 L155.16,151.91 L156.94,151.97 L158.71,152.02 L160.49,152.07 L162.26,152.12 L164.04,152.17 L165.81,152.21 L167.59,152.26 L169.36,152.30 L171.14,152.34 L172.91,152.38 L174.69,152.42 L176.47,152.46 L178.24,152.49 L180.02,152.53 L181.79,152.56 L183.57,152.60 L185.34,152.63 L187.12,152.66 L188.89,152.69 L190.67,152.72 L192.44,152.75 L194.22,152.78 L195.99,152.80 L197.77,152.83 L199.54,152.86 L201.32,152.88 L203.09,152.91 L204.87,152.93 L206.64,152.96 L208.42,152.98 L210.19,153.00 L211.97,153.02 L213.75,153.05 L215.52,153.07 L217.30,153.09 L219.07,153.11 L220.85,153.13 L222.62,153.15 L224.40,153.16 L226.17,153.18 L227.95,153.20 L229.72,153.22 L231.50,153.24 L233.27,153.25 L235.05,153.27 L236.82,153.29 L238.60,153.30 L240.37,153.32 L242.15,153.33 L243.92,153.35 L245.70,153.36" stroke="#7dc25a" stroke-width="1.0" fill="none" stroke-linejoin="round" />
<path d="M61.18,21.56 L61.18,21.96 L61.20,24.28 L61.22,26.61 L61.25,28.97 L61.28,31.33 L61.30,33.72 L61.33,36.11 L61.36,38.51 L61.39,40.92 L61.43,43.33 L61.46,45.74 L61.50,48.15 L61.53,50.56 L61.57,52.96 L61.61,55.35 L61.66,57.73 L61.70,60.10 L61.75,62.45 L61.80,64.78 L61.85,67.09 L61.91,69.38 L61.96,71.64 L62.02,73.88 L62.09,76.09 L62.15,78.28 L62.22,80.43 L62.29,82.54 L62.37,84.63 L62.45,86.68 L62.53,88.69 L62.62,90.67 L62.71,92.60 L62.80,94.50 L62.90,96.36 L63.01,98.18 L63.12,99.97 L63.23,101.71 L63.35,103.41 L63.48,105.07 L63.61,106.69 L63.75,108.27 L63.89,109.81 L64.04,111.31 L64.20,112.77 L64.37,114.20 L64.54,115.58 L64.72,116.93 L64.91,118.24 L65.11,119.51 L65.32,120.74 L65.54,121.95 L65.77,123.11 L66.01,124.25 L66.26,125.35 L66.52,126.41 L66.80,127.45 L67.09,128.45 L67.39,129.43 L67.71,130.38 L68.04,131.29 L68.39,132.19 L68.75,133.05 L69.13,133.89 L69.53,134.70 L69.95,135.49 L71.73,138.27 L73.50,140.39 L75.28,142.07 L77.05,143.45 L78.83,144.59 L80.60,145.57 L82.38,146.40 L84.15,147.13 L85.93,147.78 L87.70,148.35 L89.48,148.86 L91.25,149.32 L93.03,149.73 L94.80,150.11 L96.58,150.46 L98.35,150.78 L100.13,151.07 L101.90,151.34 L103.68,151.59 L105.46,151.83 L107.23,152.05 L109.01,152.25 L110.78,152.44 L112.56,152.62 L114.33,152.79 L116.11,152.95 L117.88,153.10 L119.66,153.25 L121.43,153.38 L123.21,153.51 L124.98,153.63 L126.76,153.75 L128.53,153.86 L130.31,153.97 L132.08,154.07 L133.86,154.16 L135.63,154.26 L137.41,154.35 L139.18,154.43 L140.96,154.51 L142.74,154.59 L144.51,154.67 L146.29,154.74 L148.06,154.81 L149.84,154.88 L151.61,154.94 L153.39,155.00 L155.16,155.06 L156.94,155.12 L158.71,155.18 L160.49,155.23 L162.26,155.29 L164.04,155.34 L165.81,155.39 L167.59,155.43 L169.36,155.48 L171.14,155.53 L172.91,155.57 L174.69,155.61 L176.47,155.65 L178.24,155.69 L180.02,155.73 L181.79,155.77 L183.57,155.81 L185.34,155.84 L187.12,155.88 L188.89,155.91 L190.67,155.95 L192.44,155.98 L194.22,156.01 L195.99,156.04 L197.77,156.07 L199.54,156.10 L201.32,156.13 L203.09,156.16 L204.87,156.18 L206.64,156.21 L208.42,156.24 L210.19,156.26 L211.97,156.29 L213.75,156.31 L215.52,156.33 L217.30,156.36 L219.07,156.38 L220.85,156.40 L222.62,156.42 L224.40,156.45 L226.17,156.47 L227.95,156.49 L229.72,156.51 L231.50,156.53 L233.27,156.55 L235.05,156.57 L236.82,156.58 L238.60,156.60 L240.37,156.62 L242.15,156.64 L243.92,156.66 L245.70,156.67" stroke="#4f6daa" stroke-width="1.0" fill="none" stroke-linejoin="round" />
<path d="M61.16,21.56 L61.16,22.72 L61.18,26.81 L61.20,30.83 L61.22,34.76 L61.25,38.61 L61.28,42.38 L61.30,46.06 L61.33,49.65 L61.36,53.16 L61.39,56.59 L61.43,59.92 L61.46,63.17 L61.50,66.33 L61.53,69.41 L61.57,72.40 L61.61,75.31 L61.66,78.13 L61.70,80.87 L61.75,83.52 L61.80,86.10 L61.85,88.60 L61.91,91.02 L61.96,93.36 L62.02,95.63 L62.09,97.82 L62.15,99.94 L62.22,102.00 L62.29,103.98 L62.37,105.90 L62.45,107.75 L62.53,109.55 L62.62,111.28 L62.71,112.95 L62.80,114.56 L62.90,116.12 L63.01,117.62 L63.12,119.07 L63.23,120.47 L63.35,121.83 L63.48,123.13 L63.61,124.39 L63.75,125.61 L63.89,126.78 L64.04,127.92 L64.20,129.01 L64.37,130.07 L64.54,131.09 L64.72,132.08 L64.91,133.03 L65.11,133.95 L65.32,134.84 L65.54,135.70 L65.77,136.53 L66.01,137.34 L66.26,138.12 L66.52,138.87 L66.80,139.60 L67.09,140.30 L67.39,140.98 L67.71,141.64 L68.04,142.28 L68.39,142.90 L68.75,143.50 L69.13,144.09 L69.53,144.65 L69.95,145.19 L71.73,147.12 L73.50,148.59 L75.28,149.75 L77.05,150.70 L78.83,151.49 L80.60,152.16 L82.38,152.74 L84.15,153.24 L85.93,153.68 L87.70,154.07 L89.48,154.42 L91.25,154.73 L93.03,155.02 L94.80,155.27 L96.58,155.51 L98.35,155.72 L100.13,155.92 L101.90,156.11 L103.68,156.27 L105.46,156.43 L107.23,156.58 L109.01,156.72 L110.78,156.84 L112.56,156.97 L114.33,157.08 L116.11,157.18 L117.88,157.29 L119.66,157.38 L121.43,157.47 L123.21,157.56 L124.98,157.64 L126.76,157.71 L128.53,157.79 L130.31,157.86 L132.08,157.92 L133.86,157.99 L135.63,158.05 L137.41,158.11 L139.18,158.16 L140.96,158.22 L142.74,158.27 L144.51,158.32 L146.29,158.36 L148.06,158.41 L149.84,158.45 L151.61,158.50 L153.39,158.54 L155.16,158.58 L156.94,158.61 L158.71,158.65 L160.49,158.69 L162.26,158.72 L164.04,158.75 L165.81,158.79 L167.59,158.82 L169.36,158.85 L171.14,158.88 L172.91,158.90 L174.69,158.93 L176.47,158.96 L178.24,158.98 L180.02,159.01 L181.79,159.03 L183.57,159.06 L185.34,159.08 L187.12,159.10 L188.89,159.13 L190.67,159.15 L192.44,159.17 L194.22,159.19 L195.99,159.21 L197.77,159.23 L199.54,159.25 L201.32,159.26 L203.09,159.28 L204.87,159.30 L206.64,159.32 L208.42,159.33 L210.19,159.35 L211.97,159.37 L213.75,159.38 L215.52,159.40 L217.30,159.41 L219.07,159.43 L220.85,159.44 L222.62,159.46 L224.40,159.47 L226.17,159.48 L227.95,159.50 L229.72,159.51 L231.50,159.52 L233.27,159.53 L235.05,159.55 L236.82,159.56 L238.60,159.57 L240.37,159.58 L242.15,159.59 L243.92,159.60 L245.70,159.61" stroke="#aaa2da" stroke-width="1.0" fill="none" stroke-linejoin="round" />
<path d="M61.05,21.56 L61.05,26.38 L61.06,32.19 L61.08,37.76 L61.10,43.07 L61.12,48.16 L61.14,53.03 L61.16,57.68 L61.18,62.13 L61.20,66.39 L61.22,70.47 L61.25,74.37 L61.28,78.09 L61.30,81.66 L61.33,85.08 L61.36,88.35 L61.39,91.47 L61.43,94.47 L61.46,97.34 L61.50,100.08 L61.53,102.71 L61.57,105.22 L61.61,107.63 L61.66,109.94 L61.70,112.16 L61.75,114.28 L61.80,116.31 L61.85,118.26 L61.91,120.13 L61.96,121.92 L62.02,123.64 L62.09,125.29 L62.15,126.87 L62.22,128.39 L62.29,129.85 L62.37,131.25 L62.45,132.59 L62.53,133.88 L62.62,135.13 L62.71,136.32 L62.80,137.47 L62.90,138.57 L63.01,139.63 L63.12,140.65 L63.23,141.64 L63.35,142.58 L63.48,143.49 L63.61,144.37 L63.75,145.21 L63.89,146.03 L64.04,146.81 L64.20,147.57 L64.37,148.29 L64.54,148.99 L64.72,149.67 L64.91,150.32 L65.11,150.95 L65.32,151.55 L65.54,152.14 L65.77,152.70 L66.01,153.24 L66.26,153.76 L66.52,154.27 L66.80,154.75 L67.09,155.22 L67.39,155.67 L67.71,156.11 L68.04,156.53 L68.39,156.93 L68.75,157.32 L69.13,157.69 L69.53,158.06 L69.95,158.40 L71.73,159.61 L73.50,160.51 L75.28,161.20 L77.05,161.76 L78.83,162.21 L80.60,162.59 L82.38,162.90 L84.15,163.18 L85.93,163.41 L87.70,163.62 L89.48,163.80 L91.25,163.97 L93.03,164.11 L94.80,164.24 L96.58,164.36 L98.35,164.47 L100.13,164.57 L101.90,164.66 L103.68,164.74 L105.46,164.82 L107.23,164.89 L109.01,164.95 L110.78,165.01 L112.56,165.07 L114.33,165.12 L116.11,165.17 L117.88,165.22 L119.66,165.27 L121.43,165.31 L123.21,165.35 L124.98,165.38 L126.76,165.42 L128.53,165.45 L130.31,165.49 L132.08,165.52 L133.86,165.55 L135.63,165.57 L137.41,165.60 L139.18,165.62 L140.96,165.65 L142.74,165.67 L144.51,165.69 L146.29,165.72 L148.06,165.74 L149.84,165.76 L151.61,165.77 L153.39,165.79 L155.16,165.81 L156.94,165.83 L158.71,165.84 L160.49,165.86 L162.26,165.87 L164.04,165.89 L165.81,165.90 L167.59,165.92 L169.36,165.93 L171.14,165.94 L172.91,165.95 L174.69,165.97 L176.47,165.98 L178.24,165.99 L180.02,166.00 L181.79,166.01 L183.57,166.02 L185.34,166.03 L187.12,166.04 L188.89,166.05 L190.67,166.06 L192.44,166.07 L194.22,166.08 L195.99,166.09 L197.77,166.09 L199.54,166.10 L201.32,166.11 L203.09,166.12 L204.87,166.13 L206.64,166.13 L208.42,166.14 L210.19,166.15 L211.97,166.15 L213.75,166.16 L215.52,166.17 L217.30,166.17 L219.07,166.18 L220.85,166.19 L222.62,166.19 L224.40,166.20 L226.17,166.20 L227.95,166.21 L229.72,166.21 L231.50,166.22 L233.27,166.23 L235.05,166.23 L236.82,166.24 L238.60,166.24 L240.37,166.25 L242.15,166.25 L243.92,166.25 L245.70,166.26" stroke="#8e5e9e" stroke-width="1.0" fill="none" stroke-linejoin="round" />
<rect x="59.60" y="92.90" width="0.9" height="1.2" fill="#111"/>
<rect x="61.10" y="92.90" width="0.9" height="1.2" fill="#111"/>
<rect x="62.60" y="92.90" width="0.9" height="1.2" fill="#111"/>
<rect x="64.10" y="92.90" width="0.9" height="1.2" fill="#111"/>
<rect x="65.60" y="92.90" width="0.9" height="1.2" fill="#111"/>
<rect x="67.10" y="92.90" width="0.9" height="1.2" fill="#111"/>
<rect x="68.60" y="92.90" width="0.9" height="1.2" fill="#111"/>
<rect x="70.10" y="92.90" width="0.9" height="1.2" fill="#111"/>
<rect x="71.60" y="92.90" width="0.9" height="1.2" fill="#111"/>
<rect x="73.10" y="92.90" width="0.9" height="1.2" fill="#111"/>
<rect x="74.60" y="92.90" width="0.9" height="1.2" fill="#111"/>
<rect x="76.10" y="92.90" width="0.9" height="1.2" fill="#111"/>
<rect x="77.60" y="92.90" width="0.9" height="1.2" fill="#111"/>
<rect x="79.10" y="92.90" width="0.9" height="1.2" fill="#111"/>
<text x="166.00" y="28.30" font-size="7.7" text-anchor="start" fill="#222" font-weight="normal" textLength="61.30" lengthAdjust="spacingAndGlyphs" stroke="#222" stroke-width="0.15" >VKORC1-warfarin</text>
<line x1="147.00" y1="38.00" x2="159.80" y2="38.00" stroke="#88c870" stroke-width="1.1" />
<polygon points="153.40,34.76 156.40,40.16 150.40,40.16" fill="#5aaa35" stroke="none" stroke-width="0" stroke-linejoin="miter"/>
<text x="163.10" y="40.10" font-size="7.9" text-anchor="start" fill="#222" font-weight="normal" stroke="#222" stroke-width="0.15" >8 µM</text>
<line x1="147.00" y1="50.50" x2="159.80" y2="50.50" stroke="#4a69a8" stroke-width="1.1" />
<rect x="150.90" y="48.00" width="5" height="5" fill="#213f8a" stroke="none" stroke-width="0"/>
<text x="163.10" y="52.60" font-size="7.9" text-anchor="start" fill="#222" font-weight="normal" stroke="#222" stroke-width="0.15" >6 µM</text>
<line x1="147.00" y1="62.60" x2="159.80" y2="62.60" stroke="#cc3355" stroke-width="1.1" />
<circle cx="153.40" cy="62.60" r="2.8" fill="#b8123c" stroke="none" stroke-width="0"/>
<text x="163.10" y="64.70" font-size="7.9" text-anchor="start" fill="#222" font-weight="normal" stroke="#222" stroke-width="0.15" >4 µM</text>
<line x1="147.00" y1="74.80" x2="159.80" y2="74.80" stroke="#4a69a8" stroke-width="1.1" />
<polygon points="153.40,78.04 156.40,72.64 150.40,72.64" fill="#1e3a84" stroke="none" stroke-width="0" stroke-linejoin="miter"/>
<text x="163.10" y="76.90" font-size="7.9" text-anchor="start" fill="#222" font-weight="normal" stroke="#222" stroke-width="0.15" >2 µM</text>
<line x1="196.60" y1="38.00" x2="209.40" y2="38.00" stroke="#f0b850" stroke-width="1.1" />
<polygon points="203.00,34.60 206.40,38.00 203.00,41.40 199.60,38.00" fill="#e8921a" stroke="none" stroke-width="0" stroke-linejoin="miter"/>
<text x="212.70" y="40.10" font-size="7.9" text-anchor="start" fill="#222" font-weight="normal" stroke="#222" stroke-width="0.15" >1 µM</text>
<line x1="196.60" y1="50.50" x2="209.40" y2="50.50" stroke="#c48a50" stroke-width="1.1" />
<polygon points="206.20,50.50 204.60,53.27 201.40,53.27 199.80,50.50 201.40,47.73 204.60,47.73" fill="#b46c2c" stroke="none" stroke-width="0" stroke-linejoin="miter"/>
<text x="212.70" y="52.60" font-size="7.9" text-anchor="start" fill="#222" font-weight="normal" stroke="#222" stroke-width="0.15" >0.5 µM</text>
<line x1="196.60" y1="62.60" x2="209.40" y2="62.60" stroke="#b0a8e0" stroke-width="1.1" />
<polygon points="206.24,62.60 200.84,59.60 200.84,65.60" fill="#9d8fdc" stroke="none" stroke-width="0" stroke-linejoin="miter"/>
<text x="212.70" y="64.70" font-size="7.9" text-anchor="start" fill="#222" font-weight="normal" stroke="#222" stroke-width="0.15" >0.25 µM</text>
<line x1="196.60" y1="74.80" x2="209.40" y2="74.80" stroke="#8cc0ec" stroke-width="1.1" />
<polygon points="199.76,74.80 205.16,71.80 205.16,77.80" fill="#5aa9ea" stroke="none" stroke-width="0" stroke-linejoin="miter"/>
<text x="212.70" y="76.90" font-size="7.9" text-anchor="start" fill="#222" font-weight="normal" stroke="#222" stroke-width="0.15" >0.125 µM</text>
<text x="266.60" y="18.20" font-size="12.2" text-anchor="start" fill="#000" font-weight="bold" stroke="#000" stroke-width="0.15" >B</text>
<rect x="326.30" y="147.31" width="21.80" height="25.79" fill="#6aaa3c"/>
<rect x="348.10" y="51.17" width="21.90" height="121.93" fill="#a0002a"/>
<rect x="370.00" y="47.13" width="21.70" height="125.97" fill="#6aaae0"/>
<rect x="408.30" y="164.65" width="22.00" height="8.45" fill="#6aaa3c"/>
<rect x="430.30" y="129.86" width="21.90" height="43.24" fill="#a0002a"/>
<rect x="452.20" y="47.25" width="21.60" height="125.85" fill="#6aaae0"/>
<line x1="337.20" y1="146.31" x2="337.20" y2="148.32" stroke="#000" stroke-width="0.9" />
<line x1="335.50" y1="146.31" x2="338.90" y2="146.31" stroke="#000" stroke-width="0.9" />
<line x1="335.50" y1="148.32" x2="338.90" y2="148.32" stroke="#000" stroke-width="0.9" />
<line x1="359.00" y1="49.66" x2="359.00" y2="52.69" stroke="#000" stroke-width="0.9" />
<line x1="357.30" y1="49.66" x2="360.70" y2="49.66" stroke="#000" stroke-width="0.9" />
<line x1="357.30" y1="52.69" x2="360.70" y2="52.69" stroke="#000" stroke-width="0.9" />
<line x1="380.80" y1="45.61" x2="380.80" y2="48.64" stroke="#000" stroke-width="0.9" />
<line x1="379.10" y1="45.61" x2="382.50" y2="45.61" stroke="#000" stroke-width="0.9" />
<line x1="379.10" y1="48.64" x2="382.50" y2="48.64" stroke="#000" stroke-width="0.9" />
<line x1="419.30" y1="163.77" x2="419.30" y2="165.52" stroke="#000" stroke-width="0.9" />
<line x1="417.60" y1="163.77" x2="421.00" y2="163.77" stroke="#000" stroke-width="0.9" />
<line x1="417.60" y1="165.52" x2="421.00" y2="165.52" stroke="#000" stroke-width="0.9" />
<line x1="441.20" y1="128.98" x2="441.20" y2="130.74" stroke="#000" stroke-width="0.9" />
<line x1="439.50" y1="128.98" x2="442.90" y2="128.98" stroke="#000" stroke-width="0.9" />
<line x1="439.50" y1="130.74" x2="442.90" y2="130.74" stroke="#000" stroke-width="0.9" />
<line x1="463.00" y1="46.37" x2="463.00" y2="48.13" stroke="#000" stroke-width="0.9" />
<line x1="461.30" y1="46.37" x2="464.70" y2="46.37" stroke="#000" stroke-width="0.9" />
<line x1="461.30" y1="48.13" x2="464.70" y2="48.13" stroke="#000" stroke-width="0.9" />
<line x1="318.00" y1="40.00" x2="318.00" y2="174.00" stroke="#0a0a0a" stroke-width="1.2" />
<line x1="317.40" y1="173.40" x2="485.50" y2="173.40" stroke="#0a0a0a" stroke-width="1.2" />
<line x1="314.00" y1="173.10" x2="318.00" y2="173.10" stroke="#0a0a0a" stroke-width="1" />
<text x="311.90" y="176.00" font-size="8.6" text-anchor="end" fill="#222" font-weight="normal" stroke="#222" stroke-width="0.15" >0%</text>
<line x1="314.00" y1="147.80" x2="318.00" y2="147.80" stroke="#0a0a0a" stroke-width="1" />
<text x="311.90" y="150.70" font-size="8.6" text-anchor="end" fill="#222" font-weight="normal" stroke="#222" stroke-width="0.15" >20%</text>
<line x1="314.00" y1="122.50" x2="318.00" y2="122.50" stroke="#0a0a0a" stroke-width="1" />
<text x="311.90" y="125.40" font-size="8.6" text-anchor="end" fill="#222" font-weight="normal" stroke="#222" stroke-width="0.15" >40%</text>
<line x1="314.00" y1="97.20" x2="318.00" y2="97.20" stroke="#0a0a0a" stroke-width="1" />
<text x="311.90" y="100.10" font-size="8.6" text-anchor="end" fill="#222" font-weight="normal" stroke="#222" stroke-width="0.15" >60%</text>
<line x1="314.00" y1="71.90" x2="318.00" y2="71.90" stroke="#0a0a0a" stroke-width="1" />
<text x="311.90" y="74.80" font-size="8.6" text-anchor="end" fill="#222" font-weight="normal" stroke="#222" stroke-width="0.15" >80%</text>
<line x1="314.00" y1="46.60" x2="318.00" y2="46.60" stroke="#0a0a0a" stroke-width="1" />
<text x="311.90" y="49.50" font-size="8.6" text-anchor="end" fill="#222" font-weight="normal" stroke="#222" stroke-width="0.15" >100%</text>
<line x1="316.00" y1="160.45" x2="318.00" y2="160.45" stroke="#0a0a0a" stroke-width="1" />
<line x1="316.00" y1="135.15" x2="318.00" y2="135.15" stroke="#0a0a0a" stroke-width="1" />
<line x1="316.00" y1="109.85" x2="318.00" y2="109.85" stroke="#0a0a0a" stroke-width="1" />
<line x1="316.00" y1="84.55" x2="318.00" y2="84.55" stroke="#0a0a0a" stroke-width="1" />
<line x1="316.00" y1="59.25" x2="318.00" y2="59.25" stroke="#0a0a0a" stroke-width="1" />
<line x1="318.00" y1="173.40" x2="318.00" y2="176.60" stroke="#0a0a0a" stroke-width="1" />
<line x1="400.00" y1="173.40" x2="400.00" y2="176.60" stroke="#0a0a0a" stroke-width="1" />
<line x1="483.00" y1="173.40" x2="483.00" y2="176.60" stroke="#0a0a0a" stroke-width="1" />
<text x="358.80" y="186.70" font-size="8.1" text-anchor="middle" fill="#222" font-weight="normal" textLength="22.50" lengthAdjust="spacingAndGlyphs" stroke="#222" stroke-width="0.15" >30 nM</text>
<text x="441.20" y="186.70" font-size="8.1" text-anchor="middle" fill="#222" font-weight="normal" textLength="27.50" lengthAdjust="spacingAndGlyphs" stroke="#222" stroke-width="0.15" >300 nM</text>
<text x="401.60" y="199.50" font-size="10.4" text-anchor="middle" fill="#111" font-weight="normal" textLength="54.30" lengthAdjust="spacingAndGlyphs" stroke="#111" stroke-width="0.45" >VKORC1-warfarin</text>
<text transform="translate(280.20,107.00) rotate(-90)" x="0" y="3.82" font-size="10.6" text-anchor="middle" fill="#111" font-weight="normal" textLength="48.30" lengthAdjust="spacingAndGlyphs" stroke="#111" stroke-width="0.45">Relative activity</text>
<rect x="355.8" y="29.5" width="6.7" height="6.5" fill="#6aaa3c"/>
<text x="365.80" y="35.00" font-size="8.1" text-anchor="start" fill="#222" font-weight="normal" textLength="11.00" lengthAdjust="spacingAndGlyphs" stroke="#222" stroke-width="0.15" >0.4</text>
<rect x="386.3" y="29.5" width="6.7" height="6.5" fill="#a0002a"/>
<text x="396.30" y="35.00" font-size="8.1" text-anchor="start" fill="#222" font-weight="normal" textLength="3.80" lengthAdjust="spacingAndGlyphs" stroke="#222" stroke-width="0.15" >4</text>
<rect x="410.8" y="29.5" width="6.7" height="6.5" fill="#6aaae0"/>
<text x="420.00" y="35.00" font-size="8.1" text-anchor="start" fill="#222" font-weight="normal" textLength="28.00" lengthAdjust="spacingAndGlyphs" stroke="#222" stroke-width="0.15" >40µM K</text>
<text x="7.40" y="229.60" font-size="12.2" text-anchor="start" fill="#000" font-weight="bold" stroke="#000" stroke-width="0.15" >C</text>
<line x1="58.60" y1="253.20" x2="58.60" y2="386.60" stroke="#0a0a0a" stroke-width="1.2" />
<line x1="58.00" y1="385.90" x2="255.80" y2="385.90" stroke="#0a0a0a" stroke-width="1.2" />
<line x1="55.30" y1="386.00" x2="58.60" y2="386.00" stroke="#0a0a0a" stroke-width="1" />
<text x="52.10" y="388.90" font-size="8.3" text-anchor="end" fill="#222" font-weight="normal" stroke="#222" stroke-width="0.15" >0%</text>
<line x1="55.30" y1="360.00" x2="58.60" y2="360.00" stroke="#0a0a0a" stroke-width="1" />
<text x="52.10" y="362.90" font-size="8.3" text-anchor="end" fill="#222" font-weight="normal" stroke="#222" stroke-width="0.15" >20%</text>
<line x1="55.30" y1="334.00" x2="58.60" y2="334.00" stroke="#0a0a0a" stroke-width="1" />
<text x="52.10" y="336.90" font-size="8.3" text-anchor="end" fill="#222" font-weight="normal" stroke="#222" stroke-width="0.15" >40%</text>
<line x1="55.30" y1="308.00" x2="58.60" y2="308.00" stroke="#0a0a0a" stroke-width="1" />
<text x="52.10" y="310.90" font-size="8.3" text-anchor="end" fill="#222" font-weight="normal" stroke="#222" stroke-width="0.15" >60%</text>
<line x1="55.30" y1="282.00" x2="58.60" y2="282.00" stroke="#0a0a0a" stroke-width="1" />
<text x="52.10" y="284.90" font-size="8.3" text-anchor="end" fill="#222" font-weight="normal" stroke="#222" stroke-width="0.15" >80%</text>
<line x1="55.30" y1="256.00" x2="58.60" y2="256.00" stroke="#0a0a0a" stroke-width="1" />
<text x="52.10" y="258.90" font-size="8.3" text-anchor="end" fill="#222" font-weight="normal" stroke="#222" stroke-width="0.15" >100%</text>
<line x1="58.70" y1="385.90" x2="58.70" y2="389.20" stroke="#0a0a0a" stroke-width="1" />
<text x="57.50" y="399.00" font-size="8.2" text-anchor="middle" fill="#222" font-weight="normal" stroke="#222" stroke-width="0.15" >-4</text>
<line x1="86.50" y1="385.90" x2="86.50" y2="389.20" stroke="#0a0a0a" stroke-width="1" />
<text x="85.30" y="399.00" font-size="8.2" text-anchor="middle" fill="#222" font-weight="normal" stroke="#222" stroke-width="0.15" >-3</text>
<line x1="114.30" y1="385.90" x2="114.30" y2="389.20" stroke="#0a0a0a" stroke-width="1" />
<text x="113.10" y="399.00" font-size="8.2" text-anchor="middle" fill="#222" font-weight="normal" stroke="#222" stroke-width="0.15" >-2</text>
<line x1="142.10" y1="385.90" x2="142.10" y2="389.20" stroke="#0a0a0a" stroke-width="1" />
<text x="140.90" y="399.00" font-size="8.2" text-anchor="middle" fill="#222" font-weight="normal" stroke="#222" stroke-width="0.15" >-1</text>
<line x1="169.90" y1="385.90" x2="169.90" y2="389.20" stroke="#0a0a0a" stroke-width="1" />
<text x="169.90" y="399.00" font-size="8.2" text-anchor="middle" fill="#222" font-weight="normal" stroke="#222" stroke-width="0.15" >0</text>
<line x1="197.70" y1="385.90" x2="197.70" y2="389.20" stroke="#0a0a0a" stroke-width="1" />
<text x="197.70" y="399.00" font-size="8.2" text-anchor="middle" fill="#222" font-weight="normal" stroke="#222" stroke-width="0.15" >1</text>
<line x1="225.50" y1="385.90" x2="225.50" y2="389.20" stroke="#0a0a0a" stroke-width="1" />
<text x="225.50" y="399.00" font-size="8.2" text-anchor="middle" fill="#222" font-weight="normal" stroke="#222" stroke-width="0.15" >2</text>
<line x1="253.30" y1="385.90" x2="253.30" y2="389.20" stroke="#0a0a0a" stroke-width="1" />
<text x="253.30" y="399.00" font-size="8.2" text-anchor="middle" fill="#222" font-weight="normal" stroke="#222" stroke-width="0.15" >3</text>
<text x="157.00" y="413.30" font-size="10.4" text-anchor="middle" fill="#111" font-weight="normal" textLength="56.70" lengthAdjust="spacingAndGlyphs" stroke="#111" stroke-width="0.45" >Warfarin (Log nM)</text>
<text transform="translate(21.30,319.40) rotate(-90)" x="0" y="3.82" font-size="10.6" text-anchor="middle" fill="#111" font-weight="normal" textLength="92.20" lengthAdjust="spacingAndGlyphs" stroke="#111" stroke-width="0.45">Relative carboxylation activity</text>
<line x1="58.60" y1="285.45" x2="141.60" y2="285.45" stroke="#111" stroke-width="1.1" stroke-dasharray="2,2.4"/>
<line x1="58.60" y1="368.69" x2="141.60" y2="368.69" stroke="#111" stroke-width="1.1" stroke-dasharray="2,2.4"/>
<line x1="141.60" y1="287.25" x2="141.60" y2="385.50" stroke="#111" stroke-width="1.1" stroke-dasharray="1.4,2.9"/>
<path d="M60.37,272.66 L61.43,273.90 L62.49,275.21 L63.56,276.60 L64.62,278.06 L65.68,279.60 L66.74,281.22 L67.81,282.92 L68.87,284.69 L69.93,286.54 L71.00,288.46 L72.06,290.44 L73.12,292.50 L74.18,294.61 L75.25,296.78 L76.31,299.00 L77.37,301.26 L78.43,303.55 L79.50,305.88 L80.56,308.23 L81.62,310.59 L82.69,312.95 L83.75,315.30 L84.81,317.65 L85.87,319.97 L86.94,322.26 L88.00,324.52 L89.06,326.73 L90.12,328.89 L91.19,330.99 L92.25,333.04 L93.31,335.01 L94.38,336.92 L95.44,338.76 L96.50,340.52 L97.56,342.20 L98.63,343.81 L99.69,345.34 L100.75,346.79 L101.81,348.17 L102.88,349.47 L103.94,350.70 L105.00,351.85 L106.07,352.94 L107.13,353.96 L108.19,354.92 L109.25,355.82 L110.32,356.66 L111.38,357.44 L112.44,358.17 L113.50,358.85 L114.57,359.48 L115.63,360.06 L116.69,360.61 L117.76,361.11 L118.82,361.58 L119.88,362.02 L120.94,362.42 L122.01,362.79 L123.07,363.14 L124.13,363.45 L125.19,363.75 L126.26,364.02 L127.32,364.27 L128.38,364.50 L129.45,364.71 L130.51,364.91 L131.57,365.09 L132.63,365.26 L133.70,365.41 L134.76,365.55 L135.82,365.68 L136.88,365.80 L137.95,365.91 L139.01,366.01 L140.07,366.11 L141.14,366.19 L142.20,366.27 L143.26,366.34 L144.32,366.41" stroke="#e8961e" stroke-width="1.2" fill="none" stroke-linejoin="round" />
<path d="M77.33,275.18 L78.39,276.20 L79.44,277.25 L80.50,278.35 L81.56,279.49 L82.62,280.68 L83.68,281.90 L84.74,283.16 L85.80,284.46 L86.86,285.81 L87.92,287.19 L88.98,288.60 L90.04,290.06 L91.10,291.54 L92.16,293.06 L93.21,294.61 L94.27,296.19 L95.33,297.79 L96.39,299.41 L97.45,301.06 L98.51,302.72 L99.57,304.39 L100.63,306.08 L101.69,307.77 L102.75,309.46 L103.81,311.16 L104.87,312.85 L105.92,314.54 L106.98,316.21 L108.04,317.88 L109.10,319.52 L110.16,321.15 L111.22,322.76 L112.28,324.34 L113.34,325.89 L114.40,327.41 L115.46,328.91 L116.52,330.37 L117.58,331.79 L118.64,333.18 L119.69,334.52 L120.75,335.83 L121.81,337.10 L122.87,338.33 L123.93,339.52 L124.99,340.67 L126.05,341.77 L127.11,342.84 L128.17,343.86 L129.23,344.84 L130.29,345.79 L131.35,346.69 L132.41,347.55 L133.46,348.38 L134.52,349.17 L135.58,349.92 L136.64,350.64 L137.70,351.33 L138.76,351.98 L139.82,352.60 L140.88,353.19 L141.94,353.75 L143.00,354.28 L144.06,354.78 L145.12,355.26 L146.17,355.72 L147.23,356.14 L148.29,356.55 L149.35,356.93 L150.41,357.30 L151.47,357.64 L152.53,357.96 L153.59,358.27 L154.65,358.56 L155.71,358.83 L156.77,359.09 L157.83,359.33 L158.89,359.56 L159.94,359.78 L161.00,359.98" stroke="#2a4c8c" stroke-width="1.2" fill="none" stroke-linejoin="round" />
<path d="M85.39,269.91 L86.45,270.83 L87.52,271.81 L88.59,272.84 L89.65,273.92 L90.72,275.05 L91.79,276.24 L92.85,277.48 L93.92,278.78 L94.98,280.13 L96.05,281.54 L97.12,283.00 L98.18,284.52 L99.25,286.08 L100.32,287.69 L101.38,289.35 L102.45,291.05 L103.51,292.80 L104.58,294.57 L105.65,296.39 L106.71,298.22 L107.78,300.09 L108.85,301.97 L109.91,303.86 L110.98,305.77 L112.04,307.67 L113.11,309.58 L114.18,311.47 L115.24,313.36 L116.31,315.22 L117.38,317.07 L118.44,318.88 L119.51,320.66 L120.57,322.41 L121.64,324.12 L122.71,325.78 L123.77,327.40 L124.84,328.97 L125.91,330.49 L126.97,331.96 L128.04,333.37 L129.10,334.73 L130.17,336.04 L131.24,337.29 L132.30,338.48 L133.37,339.62 L134.44,340.71 L135.50,341.75 L136.57,342.73 L137.63,343.66 L138.70,344.54 L139.77,345.38 L140.83,346.16 L141.90,346.91 L142.97,347.61 L144.03,348.27 L145.10,348.89 L146.16,349.47 L147.23,350.02 L148.30,350.54 L149.36,351.02 L150.43,351.47 L151.50,351.89 L152.56,352.29 L153.63,352.66 L154.69,353.01 L155.76,353.33 L156.83,353.63 L157.89,353.91 L158.96,354.18 L160.03,354.42 L161.09,354.65 L162.16,354.86 L163.22,355.06 L164.29,355.25 L165.36,355.42 L166.42,355.58 L167.49,355.73 L168.56,355.87 L169.62,355.99" stroke="#d5158a" stroke-width="1.2" fill="none" stroke-linejoin="round" />
<path d="M93.45,264.98 L94.52,265.76 L95.58,266.60 L96.65,267.50 L97.72,268.46 L98.78,269.50 L99.85,270.61 L100.91,271.79 L101.98,273.05 L103.05,274.39 L104.11,275.81 L105.18,277.31 L106.25,278.90 L107.31,280.56 L108.38,282.31 L109.44,284.14 L110.51,286.04 L111.58,288.02 L112.64,290.06 L113.71,292.17 L114.78,294.33 L115.84,296.55 L116.91,298.81 L117.97,301.10 L119.04,303.42 L120.11,305.75 L121.17,308.09 L122.24,310.43 L123.31,312.75 L124.37,315.05 L125.44,317.32 L126.50,319.54 L127.57,321.72 L128.64,323.84 L129.70,325.90 L130.77,327.89 L131.84,329.81 L132.90,331.66 L133.97,333.42 L135.03,335.10 L136.10,336.71 L137.17,338.23 L138.23,339.66 L139.30,341.02 L140.37,342.30 L141.43,343.50 L142.50,344.62 L143.56,345.67 L144.63,346.65 L145.70,347.57 L146.76,348.42 L147.83,349.21 L148.90,349.95 L149.96,350.62 L151.03,351.25 L152.09,351.84 L153.16,352.37 L154.23,352.87 L155.29,353.32 L156.36,353.74 L157.43,354.13 L158.49,354.49 L159.56,354.81 L160.62,355.11 L161.69,355.39 L162.76,355.64 L163.82,355.87 L164.89,356.08 L165.96,356.28 L167.02,356.46 L168.09,356.62 L169.15,356.77 L170.22,356.91 L171.29,357.03 L172.35,357.15 L173.42,357.25 L174.49,357.35 L175.55,357.44 L176.62,357.52 L177.68,357.59" stroke="#4a1c6c" stroke-width="1.2" fill="none" stroke-linejoin="round" />
<path d="M102.35,270.30 L103.41,271.08 L104.46,271.89 L105.52,272.74 L106.58,273.62 L107.64,274.54 L108.70,275.50 L109.76,276.50 L110.82,277.53 L111.88,278.61 L112.94,279.72 L114.00,280.87 L115.06,282.06 L116.12,283.28 L117.18,284.54 L118.23,285.84 L119.29,287.18 L120.35,288.55 L121.41,289.95 L122.47,291.38 L123.53,292.84 L124.59,294.33 L125.65,295.85 L126.71,297.39 L127.77,298.95 L128.83,300.53 L129.89,302.12 L130.94,303.73 L132.00,305.35 L133.06,306.97 L134.12,308.60 L135.18,310.23 L136.24,311.85 L137.30,313.48 L138.36,315.09 L139.42,316.69 L140.48,318.28 L141.54,319.85 L142.60,321.40 L143.66,322.93 L144.71,324.44 L145.77,325.92 L146.83,327.37 L147.89,328.79 L148.95,330.18 L150.01,331.53 L151.07,332.85 L152.13,334.13 L153.19,335.38 L154.25,336.59 L155.31,337.76 L156.37,338.90 L157.43,339.99 L158.48,341.05 L159.54,342.07 L160.60,343.05 L161.66,343.99 L162.72,344.90 L163.78,345.77 L164.84,346.60 L165.90,347.40 L166.96,348.16 L168.02,348.89 L169.08,349.59 L170.14,350.25 L171.19,350.88 L172.25,351.49 L173.31,352.06 L174.37,352.61 L175.43,353.13 L176.49,353.62 L177.55,354.09 L178.61,354.54 L179.67,354.96 L180.73,355.36 L181.79,355.74 L182.85,356.10 L183.91,356.44 L184.96,356.77 L186.02,357.07" stroke="#5a2a7a" stroke-width="1.2" fill="none" stroke-linejoin="round" />
<path d="M110.69,272.36 L111.74,273.15 L112.80,273.99 L113.85,274.85 L114.91,275.74 L115.96,276.66 L117.02,277.62 L118.08,278.60 L119.13,279.62 L120.19,280.67 L121.24,281.75 L122.30,282.85 L123.35,283.99 L124.41,285.16 L125.47,286.35 L126.52,287.57 L127.58,288.81 L128.63,290.08 L129.69,291.37 L130.74,292.68 L131.80,294.01 L132.86,295.36 L133.91,296.72 L134.97,298.10 L136.02,299.49 L137.08,300.88 L138.13,302.29 L139.19,303.69 L140.25,305.10 L141.30,306.51 L142.36,307.92 L143.41,309.32 L144.47,310.71 L145.52,312.10 L146.58,313.47 L147.64,314.83 L148.69,316.17 L149.75,317.50 L150.80,318.81 L151.86,320.09 L152.91,321.35 L153.97,322.59 L155.03,323.80 L156.08,324.99 L157.14,326.15 L158.19,327.28 L159.25,328.38 L160.30,329.45 L161.36,330.49 L162.42,331.50 L163.47,332.48 L164.53,333.42 L165.58,334.34 L166.64,335.22 L167.69,336.08 L168.75,336.90 L169.80,337.69 L170.86,338.45 L171.92,339.19 L172.97,339.89 L174.03,340.57 L175.08,341.21 L176.14,341.84 L177.19,342.43 L178.25,343.00 L179.31,343.54 L180.36,344.06 L181.42,344.56 L182.47,345.03 L183.53,345.48 L184.58,345.91 L185.64,346.32 L186.70,346.71 L187.75,347.09 L188.81,347.44 L189.86,347.78 L190.92,348.10 L191.97,348.40 L193.03,348.69 L194.09,348.96" stroke="#5cb048" stroke-width="1.2" fill="none" stroke-linejoin="round" />
<path d="M119.30,263.52 L120.36,264.08 L121.42,264.68 L122.47,265.31 L123.53,265.99 L124.58,266.71 L125.64,267.48 L126.69,268.29 L127.75,269.16 L128.81,270.07 L129.86,271.04 L130.92,272.07 L131.97,273.15 L133.03,274.29 L134.08,275.48 L135.14,276.74 L136.20,278.06 L137.25,279.44 L138.31,280.88 L139.36,282.38 L140.42,283.94 L141.47,285.56 L142.53,287.23 L143.59,288.96 L144.64,290.74 L145.70,292.57 L146.75,294.44 L147.81,296.35 L148.86,298.30 L149.92,300.27 L150.97,302.28 L152.03,304.30 L153.09,306.34 L154.14,308.38 L155.20,310.43 L156.25,312.48 L157.31,314.51 L158.36,316.53 L159.42,318.52 L160.48,320.49 L161.53,322.43 L162.59,324.32 L163.64,326.18 L164.70,327.99 L165.75,329.75 L166.81,331.46 L167.87,333.12 L168.92,334.72 L169.98,336.26 L171.03,337.74 L172.09,339.16 L173.14,340.51 L174.20,341.81 L175.26,343.05 L176.31,344.23 L177.37,345.35 L178.42,346.41 L179.48,347.41 L180.53,348.36 L181.59,349.26 L182.65,350.11 L183.70,350.91 L184.76,351.66 L185.81,352.36 L186.87,353.03 L187.92,353.65 L188.98,354.23 L190.04,354.78 L191.09,355.29 L192.15,355.76 L193.20,356.21 L194.26,356.63 L195.31,357.01 L196.37,357.38 L197.43,357.71 L198.48,358.03 L199.54,358.32 L200.59,358.59 L201.65,358.85 L202.70,359.08" stroke="#c0143c" stroke-width="1.2" fill="none" stroke-linejoin="round" />
<path d="M142.10,259.02 L143.08,259.35 L144.06,259.71 L145.05,260.11 L146.03,260.55 L147.01,261.03 L147.99,261.56 L148.97,262.15 L149.95,262.79 L150.94,263.49 L151.92,264.26 L152.90,265.09 L153.88,266.01 L154.86,267.00 L155.85,268.08 L156.83,269.25 L157.81,270.51 L158.79,271.87 L159.77,273.32 L160.75,274.89 L161.74,276.55 L162.72,278.32 L163.70,280.19 L164.68,282.17 L165.66,284.24 L166.64,286.41 L167.63,288.66 L168.61,290.99 L169.59,293.39 L170.57,295.85 L171.55,298.36 L172.54,300.89 L173.52,303.45 L174.50,306.01 L175.48,308.56 L176.46,311.09 L177.44,313.57 L178.43,316.01 L179.41,318.39 L180.39,320.69 L181.37,322.91 L182.35,325.04 L183.34,327.08 L184.32,329.01 L185.30,330.85 L186.28,332.58 L187.26,334.20 L188.24,335.72 L189.23,337.14 L190.21,338.46 L191.19,339.69 L192.17,340.82 L193.15,341.86 L194.14,342.83 L195.12,343.71 L196.10,344.52 L197.08,345.26 L198.06,345.94 L199.04,346.56 L200.03,347.12 L201.01,347.63 L201.99,348.10 L202.97,348.52 L203.95,348.90 L204.94,349.25 L205.92,349.57 L206.90,349.85 L207.88,350.11 L208.86,350.34 L209.84,350.55 L210.83,350.74 L211.81,350.91 L212.79,351.07 L213.77,351.21 L214.75,351.33 L215.73,351.45 L216.72,351.55 L217.70,351.64 L218.68,351.72 L219.66,351.80" stroke="#a09ee0" stroke-width="1.2" fill="none" stroke-linejoin="round" />
<path d="M152.11,267.22 L153.17,267.82 L154.24,268.43 L155.31,269.08 L156.37,269.75 L157.44,270.45 L158.51,271.18 L159.57,271.94 L160.64,272.73 L161.70,273.55 L162.77,274.40 L163.84,275.28 L164.90,276.19 L165.97,277.13 L167.04,278.10 L168.10,279.09 L169.17,280.12 L170.23,281.18 L171.30,282.27 L172.37,283.38 L173.43,284.52 L174.50,285.68 L175.57,286.87 L176.63,288.08 L177.70,289.31 L178.76,290.56 L179.83,291.83 L180.90,293.11 L181.96,294.41 L183.03,295.72 L184.10,297.04 L185.16,298.36 L186.23,299.69 L187.29,301.03 L188.36,302.36 L189.43,303.69 L190.49,305.02 L191.56,306.34 L192.63,307.66 L193.69,308.96 L194.76,310.25 L195.82,311.53 L196.89,312.78 L197.96,314.02 L199.02,315.24 L200.09,316.44 L201.16,317.61 L202.22,318.76 L203.29,319.89 L204.35,320.98 L205.42,322.05 L206.49,323.09 L207.55,324.11 L208.62,325.09 L209.69,326.04 L210.75,326.96 L211.82,327.85 L212.88,328.72 L213.95,329.55 L215.02,330.35 L216.08,331.12 L217.15,331.86 L218.22,332.58 L219.28,333.26 L220.35,333.92 L221.41,334.55 L222.48,335.15 L223.55,335.73 L224.61,336.28 L225.68,336.81 L226.75,337.32 L227.81,337.80 L228.88,338.26 L229.94,338.69 L231.01,339.11 L232.08,339.51 L233.14,339.88 L234.21,340.24 L235.28,340.58 L236.34,340.91" stroke="#5a3614" stroke-width="1.2" fill="none" stroke-linejoin="round" />
<path d="M161.00,264.89 L162.06,265.33 L163.12,265.80 L164.18,266.28 L165.24,266.78 L166.30,267.31 L167.36,267.85 L168.42,268.41 L169.48,268.99 L170.54,269.59 L171.60,270.22 L172.66,270.86 L173.71,271.52 L174.77,272.20 L175.83,272.91 L176.89,273.63 L177.95,274.37 L179.01,275.13 L180.07,275.91 L181.13,276.70 L182.19,277.51 L183.25,278.34 L184.31,279.18 L185.37,280.04 L186.43,280.90 L187.48,281.78 L188.54,282.67 L189.60,283.57 L190.66,284.48 L191.72,285.39 L192.78,286.31 L193.84,287.23 L194.90,288.15 L195.96,289.07 L197.02,289.99 L198.08,290.91 L199.14,291.83 L200.19,292.74 L201.25,293.64 L202.31,294.53 L203.37,295.42 L204.43,296.29 L205.49,297.15 L206.55,298.00 L207.61,298.83 L208.67,299.65 L209.73,300.45 L210.79,301.24 L211.85,302.00 L212.91,302.75 L213.96,303.48 L215.02,304.20 L216.08,304.89 L217.14,305.56 L218.20,306.21 L219.26,306.84 L220.32,307.46 L221.38,308.05 L222.44,308.62 L223.50,309.17 L224.56,309.70 L225.62,310.21 L226.68,310.70 L227.73,311.18 L228.79,311.63 L229.85,312.07 L230.91,312.49 L231.97,312.89 L233.03,313.27 L234.09,313.64 L235.15,313.99 L236.21,314.33 L237.27,314.65 L238.33,314.96 L239.39,315.25 L240.45,315.53 L241.50,315.79 L242.56,316.05 L243.62,316.29 L244.68,316.52" stroke="#98b070" stroke-width="1.2" fill="none" stroke-linejoin="round" />
<circle cx="60.37" cy="273.81" r="2.7" fill="#e8961e" stroke="none" stroke-width="0"/>
<circle cx="68.71" cy="284.99" r="2.7" fill="#e8961e" stroke="none" stroke-width="0"/>
<circle cx="77.33" cy="296.95" r="2.7" fill="#e8961e" stroke="none" stroke-width="0"/>
<circle cx="85.39" cy="323.21" r="2.7" fill="#e8961e" stroke="none" stroke-width="0"/>
<circle cx="94.28" cy="334.52" r="2.7" fill="#e8961e" stroke="none" stroke-width="0"/>
<circle cx="102.35" cy="350.77" r="2.7" fill="#e8961e" stroke="none" stroke-width="0"/>
<circle cx="110.69" cy="355.45" r="2.7" fill="#e8961e" stroke="none" stroke-width="0"/>
<circle cx="119.30" cy="363.25" r="2.7" fill="#e8961e" stroke="none" stroke-width="0"/>
<circle cx="127.37" cy="361.30" r="2.7" fill="#e8961e" stroke="none" stroke-width="0"/>
<circle cx="135.71" cy="365.72" r="2.7" fill="#e8961e" stroke="none" stroke-width="0"/>
<circle cx="144.32" cy="368.19" r="2.7" fill="#e8961e" stroke="none" stroke-width="0"/>
<rect x="74.83" y="267.02" width="5.0" height="5.0" fill="#234a8c" stroke="none" stroke-width="0"/>
<rect x="83.17" y="282.10" width="5.0" height="5.0" fill="#234a8c" stroke="none" stroke-width="0"/>
<rect x="91.78" y="300.56" width="5.0" height="5.0" fill="#234a8c" stroke="none" stroke-width="0"/>
<rect x="99.85" y="304.46" width="5.0" height="5.0" fill="#234a8c" stroke="none" stroke-width="0"/>
<rect x="108.19" y="320.71" width="5.0" height="5.0" fill="#234a8c" stroke="none" stroke-width="0"/>
<rect x="116.80" y="328.77" width="5.0" height="5.0" fill="#234a8c" stroke="none" stroke-width="0"/>
<rect x="124.87" y="338.00" width="5.0" height="5.0" fill="#234a8c" stroke="none" stroke-width="0"/>
<rect x="133.21" y="349.44" width="5.0" height="5.0" fill="#234a8c" stroke="none" stroke-width="0"/>
<rect x="141.82" y="353.21" width="5.0" height="5.0" fill="#234a8c" stroke="none" stroke-width="0"/>
<rect x="150.16" y="355.68" width="5.0" height="5.0" fill="#234a8c" stroke="none" stroke-width="0"/>
<rect x="158.50" y="357.50" width="5.0" height="5.0" fill="#234a8c" stroke="none" stroke-width="0"/>
<polygon points="85.39,261.86 88.39,267.26 82.39,267.26" fill="#d5158a" stroke="none" stroke-width="0" stroke-linejoin="miter"/>
<polygon points="94.01,276.55 97.01,281.95 91.01,281.95" fill="#d5158a" stroke="none" stroke-width="0" stroke-linejoin="miter"/>
<polygon points="102.62,288.64 105.62,294.04 99.62,294.04" fill="#d5158a" stroke="none" stroke-width="0" stroke-linejoin="miter"/>
<polygon points="110.69,305.54 113.69,310.94 107.69,310.94" fill="#d5158a" stroke="none" stroke-width="0" stroke-linejoin="miter"/>
<polygon points="119.30,316.59 122.30,321.99 116.30,321.99" fill="#d5158a" stroke="none" stroke-width="0" stroke-linejoin="miter"/>
<polygon points="127.64,329.07 130.64,334.47 124.64,334.47" fill="#d5158a" stroke="none" stroke-width="0" stroke-linejoin="miter"/>
<polygon points="135.98,336.09 138.98,341.49 132.98,341.49" fill="#d5158a" stroke="none" stroke-width="0" stroke-linejoin="miter"/>
<polygon points="144.32,343.76 147.32,349.16 141.32,349.16" fill="#d5158a" stroke="none" stroke-width="0" stroke-linejoin="miter"/>
<polygon points="152.66,349.09 155.66,354.49 149.66,354.49" fill="#d5158a" stroke="none" stroke-width="0" stroke-linejoin="miter"/>
<polygon points="161.00,355.98 164.00,361.38 158.00,361.38" fill="#d5158a" stroke="none" stroke-width="0" stroke-linejoin="miter"/>
<polygon points="169.62,351.30 172.62,356.70 166.62,356.70" fill="#d5158a" stroke="none" stroke-width="0" stroke-linejoin="miter"/>
<polygon points="93.45,264.44 96.45,259.04 90.45,259.04" fill="#4a1c6c" stroke="none" stroke-width="0" stroke-linejoin="miter"/>
<polygon points="102.35,274.84 105.35,269.44 99.35,269.44" fill="#4a1c6c" stroke="none" stroke-width="0" stroke-linejoin="miter"/>
<polygon points="110.69,291.35 113.69,285.95 107.69,285.95" fill="#4a1c6c" stroke="none" stroke-width="0" stroke-linejoin="miter"/>
<polygon points="119.30,307.73 122.30,302.33 116.30,302.33" fill="#4a1c6c" stroke="none" stroke-width="0" stroke-linejoin="miter"/>
<polygon points="127.64,330.35 130.64,324.95 124.64,324.95" fill="#4a1c6c" stroke="none" stroke-width="0" stroke-linejoin="miter"/>
<polygon points="135.98,334.77 138.98,329.37 132.98,329.37" fill="#4a1c6c" stroke="none" stroke-width="0" stroke-linejoin="miter"/>
<polygon points="144.60,346.60 147.60,341.20 141.60,341.20" fill="#4a1c6c" stroke="none" stroke-width="0" stroke-linejoin="miter"/>
<polygon points="152.66,354.14 155.66,348.74 149.66,348.74" fill="#4a1c6c" stroke="none" stroke-width="0" stroke-linejoin="miter"/>
<polygon points="161.00,360.64 164.00,355.24 158.00,355.24" fill="#4a1c6c" stroke="none" stroke-width="0" stroke-linejoin="miter"/>
<polygon points="169.62,365.58 172.62,360.18 166.62,360.18" fill="#4a1c6c" stroke="none" stroke-width="0" stroke-linejoin="miter"/>
<polygon points="177.68,357.78 180.68,352.38 174.68,352.38" fill="#4a1c6c" stroke="none" stroke-width="0" stroke-linejoin="miter"/>
<polygon points="102.35,263.43 105.45,266.53 102.35,269.63 99.25,266.53" fill="#b8702a" stroke="none" stroke-width="0" stroke-linejoin="miter"/>
<polygon points="110.69,268.50 113.79,271.60 110.69,274.70 107.59,271.60" fill="#b8702a" stroke="none" stroke-width="0" stroke-linejoin="miter"/>
<polygon points="119.30,287.87 122.40,290.97 119.30,294.07 116.20,290.97" fill="#b8702a" stroke="none" stroke-width="0" stroke-linejoin="miter"/>
<polygon points="127.64,302.30 130.74,305.40 127.64,308.50 124.54,305.40" fill="#b8702a" stroke="none" stroke-width="0" stroke-linejoin="miter"/>
<polygon points="135.71,308.93 138.81,312.03 135.71,315.13 132.61,312.03" fill="#b8702a" stroke="none" stroke-width="0" stroke-linejoin="miter"/>
<polygon points="144.32,317.77 147.42,320.87 144.32,323.97 141.22,320.87" fill="#b8702a" stroke="none" stroke-width="0" stroke-linejoin="miter"/>
<polygon points="152.66,328.43 155.76,331.53 152.66,334.63 149.56,331.53" fill="#b8702a" stroke="none" stroke-width="0" stroke-linejoin="miter"/>
<polygon points="161.00,340.00 164.10,343.10 161.00,346.20 157.90,343.10" fill="#b8702a" stroke="none" stroke-width="0" stroke-linejoin="miter"/>
<polygon points="169.62,345.85 172.72,348.95 169.62,352.05 166.52,348.95" fill="#b8702a" stroke="none" stroke-width="0" stroke-linejoin="miter"/>
<polygon points="177.68,353.78 180.78,356.88 177.68,359.98 174.58,356.88" fill="#b8702a" stroke="none" stroke-width="0" stroke-linejoin="miter"/>
<polygon points="186.02,354.30 189.12,357.40 186.02,360.50 182.92,357.40" fill="#b8702a" stroke="none" stroke-width="0" stroke-linejoin="miter"/>
<circle cx="110.69" cy="269.78" r="2.6" fill="none" stroke="#4caf3a" stroke-width="1.15"/>
<circle cx="119.30" cy="277.45" r="2.6" fill="none" stroke="#4caf3a" stroke-width="1.15"/>
<circle cx="127.64" cy="291.49" r="2.6" fill="none" stroke="#4caf3a" stroke-width="1.15"/>
<circle cx="135.71" cy="301.24" r="2.6" fill="none" stroke="#4caf3a" stroke-width="1.15"/>
<circle cx="144.32" cy="313.07" r="2.6" fill="none" stroke="#4caf3a" stroke-width="1.15"/>
<circle cx="152.66" cy="317.88" r="2.6" fill="none" stroke="#4caf3a" stroke-width="1.15"/>
<circle cx="161.00" cy="328.80" r="2.6" fill="none" stroke="#4caf3a" stroke-width="1.15"/>
<circle cx="169.62" cy="337.25" r="2.6" fill="none" stroke="#4caf3a" stroke-width="1.15"/>
<circle cx="177.68" cy="342.45" r="2.6" fill="none" stroke="#4caf3a" stroke-width="1.15"/>
<circle cx="186.02" cy="346.48" r="2.6" fill="none" stroke="#4caf3a" stroke-width="1.15"/>
<circle cx="194.09" cy="350.38" r="2.6" fill="none" stroke="#4caf3a" stroke-width="1.15"/>
<rect x="116.80" y="262.86" width="5.0" height="5.0" fill="none" stroke="#c0143c" stroke-width="1.15"/>
<rect x="125.14" y="270.66" width="5.0" height="5.0" fill="none" stroke="#c0143c" stroke-width="1.15"/>
<rect x="133.21" y="274.43" width="5.0" height="5.0" fill="none" stroke="#c0143c" stroke-width="1.15"/>
<rect x="141.82" y="286.52" width="5.0" height="5.0" fill="none" stroke="#c0143c" stroke-width="1.15"/>
<rect x="150.16" y="303.81" width="5.0" height="5.0" fill="none" stroke="#c0143c" stroke-width="1.15"/>
<rect x="158.50" y="310.70" width="5.0" height="5.0" fill="none" stroke="#c0143c" stroke-width="1.15"/>
<rect x="166.57" y="337.48" width="5.0" height="5.0" fill="none" stroke="#c0143c" stroke-width="1.15"/>
<rect x="174.91" y="347.10" width="5.0" height="5.0" fill="none" stroke="#c0143c" stroke-width="1.15"/>
<rect x="183.52" y="352.30" width="5.0" height="5.0" fill="none" stroke="#c0143c" stroke-width="1.15"/>
<rect x="191.59" y="352.30" width="5.0" height="5.0" fill="none" stroke="#c0143c" stroke-width="1.15"/>
<rect x="200.20" y="353.34" width="5.0" height="5.0" fill="none" stroke="#c0143c" stroke-width="1.15"/>
<polygon points="135.71,256.92 138.71,262.32 132.71,262.32" fill="none" stroke="#9f9de0" stroke-width="1.15" stroke-linejoin="miter"/>
<polygon points="143.77,254.06 146.77,259.46 140.77,259.46" fill="none" stroke="#9f9de0" stroke-width="1.15" stroke-linejoin="miter"/>
<polygon points="151.27,262.64 154.27,268.04 148.27,268.04" fill="none" stroke="#9f9de0" stroke-width="1.15" stroke-linejoin="miter"/>
<polygon points="159.89,269.66 162.89,275.06 156.89,275.06" fill="none" stroke="#9f9de0" stroke-width="1.15" stroke-linejoin="miter"/>
<polygon points="169.07,288.51 172.07,293.91 166.07,293.91" fill="none" stroke="#9f9de0" stroke-width="1.15" stroke-linejoin="miter"/>
<polygon points="177.41,309.05 180.41,314.45 174.41,314.45" fill="none" stroke="#9f9de0" stroke-width="1.15" stroke-linejoin="miter"/>
<polygon points="186.02,332.32 189.02,337.72 183.02,337.72" fill="none" stroke="#9f9de0" stroke-width="1.15" stroke-linejoin="miter"/>
<polygon points="194.09,337.78 197.09,343.18 191.09,343.18" fill="none" stroke="#9f9de0" stroke-width="1.15" stroke-linejoin="miter"/>
<polygon points="202.70,342.98 205.70,348.38 199.70,348.38" fill="none" stroke="#9f9de0" stroke-width="1.15" stroke-linejoin="miter"/>
<polygon points="211.04,348.31 214.04,353.71 208.04,353.71" fill="none" stroke="#9f9de0" stroke-width="1.15" stroke-linejoin="miter"/>
<polygon points="219.66,349.61 222.66,355.01 216.66,355.01" fill="none" stroke="#9f9de0" stroke-width="1.15" stroke-linejoin="miter"/>
<polygon points="152.11,266.39 155.11,260.99 149.11,260.99" fill="none" stroke="#5a3614" stroke-width="1.15" stroke-linejoin="miter"/>
<polygon points="160.73,273.54 163.73,268.14 157.73,268.14" fill="none" stroke="#5a3614" stroke-width="1.15" stroke-linejoin="miter"/>
<polygon points="169.07,286.28 172.07,280.88 166.07,280.88" fill="none" stroke="#5a3614" stroke-width="1.15" stroke-linejoin="miter"/>
<polygon points="177.41,295.12 180.41,289.72 174.41,289.72" fill="none" stroke="#5a3614" stroke-width="1.15" stroke-linejoin="miter"/>
<polygon points="186.02,302.79 189.02,297.39 183.02,297.39" fill="none" stroke="#5a3614" stroke-width="1.15" stroke-linejoin="miter"/>
<polygon points="194.64,313.32 197.64,307.92 191.64,307.92" fill="none" stroke="#5a3614" stroke-width="1.15" stroke-linejoin="miter"/>
<polygon points="202.70,319.82 205.70,314.42 199.70,314.42" fill="none" stroke="#5a3614" stroke-width="1.15" stroke-linejoin="miter"/>
<polygon points="211.04,329.96 214.04,324.56 208.04,324.56" fill="none" stroke="#5a3614" stroke-width="1.15" stroke-linejoin="miter"/>
<polygon points="219.66,335.94 222.66,330.54 216.66,330.54" fill="none" stroke="#5a3614" stroke-width="1.15" stroke-linejoin="miter"/>
<polygon points="227.72,342.70 230.72,337.30 224.72,337.30" fill="none" stroke="#5a3614" stroke-width="1.15" stroke-linejoin="miter"/>
<polygon points="236.34,344.00 239.34,338.60 233.34,338.60" fill="none" stroke="#5a3614" stroke-width="1.15" stroke-linejoin="miter"/>
<polygon points="161.00,254.59 164.10,257.69 161.00,260.79 157.90,257.69" fill="none" stroke="#98b070" stroke-width="1.15" stroke-linejoin="miter"/>
<polygon points="169.07,265.64 172.17,268.74 169.07,271.84 165.97,268.74" fill="none" stroke="#98b070" stroke-width="1.15" stroke-linejoin="miter"/>
<polygon points="177.41,276.30 180.51,279.40 177.41,282.50 174.31,279.40" fill="none" stroke="#98b070" stroke-width="1.15" stroke-linejoin="miter"/>
<polygon points="186.02,281.50 189.12,284.60 186.02,287.70 182.92,284.60" fill="none" stroke="#98b070" stroke-width="1.15" stroke-linejoin="miter"/>
<polygon points="194.09,287.35 197.19,290.45 194.09,293.55 190.99,290.45" fill="none" stroke="#98b070" stroke-width="1.15" stroke-linejoin="miter"/>
<polygon points="202.70,293.07 205.80,296.17 202.70,299.27 199.60,296.17" fill="none" stroke="#98b070" stroke-width="1.15" stroke-linejoin="miter"/>
<polygon points="211.04,298.40 214.14,301.50 211.04,304.60 207.94,301.50" fill="none" stroke="#98b070" stroke-width="1.15" stroke-linejoin="miter"/>
<polygon points="219.66,304.64 222.76,307.74 219.66,310.84 216.56,307.74" fill="none" stroke="#98b070" stroke-width="1.15" stroke-linejoin="miter"/>
<polygon points="227.72,307.76 230.82,310.86 227.72,313.96 224.62,310.86" fill="none" stroke="#98b070" stroke-width="1.15" stroke-linejoin="miter"/>
<polygon points="236.34,316.73 239.44,319.83 236.34,322.93 233.24,319.83" fill="none" stroke="#98b070" stroke-width="1.15" stroke-linejoin="miter"/>
<polygon points="244.68,318.55 247.78,321.65 244.68,324.75 241.58,321.65" fill="none" stroke="#98b070" stroke-width="1.15" stroke-linejoin="miter"/>
<line x1="197.50" y1="358.50" x2="197.50" y2="382.00" stroke="#000" stroke-width="1" />
<polygon points="197.50,355.60 195.30,360.50 199.70,360.50" fill="#000" stroke="none" stroke-width="0" stroke-linejoin="miter"/>
<polygon points="197.50,385.00 195.30,380.00 199.70,380.00" fill="#000" stroke="none" stroke-width="0" stroke-linejoin="miter"/>
<text x="200.80" y="373.60" font-size="7.6" text-anchor="start" fill="#222" font-weight="normal" textLength="80.00" lengthAdjust="spacingAndGlyphs" stroke="#222" stroke-width="0.15" >&lt;30% Unknown enzyme</text>
<text x="270.00" y="239.80" font-size="8.2" text-anchor="start" fill="#222" font-weight="normal" stroke="#222" stroke-width="0.15" >K</text>
<circle cx="262.70" cy="249.10" r="2.7" fill="#e8961e" stroke="none" stroke-width="0"/>
<text x="269.20" y="252.00" font-size="8.1" text-anchor="start" fill="#222" font-weight="normal" stroke="#222" stroke-width="0.15" >5 nM</text>
<rect x="260.20" y="259.15" width="5.0" height="5.0" fill="#234a8c" stroke="none" stroke-width="0"/>
<text x="269.20" y="264.55" font-size="8.1" text-anchor="start" fill="#222" font-weight="normal" stroke="#222" stroke-width="0.15" >50 nM</text>
<polygon points="262.70,270.96 265.70,276.36 259.70,276.36" fill="#d5158a" stroke="none" stroke-width="0" stroke-linejoin="miter"/>
<text x="269.20" y="277.10" font-size="8.1" text-anchor="start" fill="#222" font-weight="normal" stroke="#222" stroke-width="0.15" >200 nM</text>
<polygon points="262.70,289.99 265.70,284.59 259.70,284.59" fill="#4a1c6c" stroke="none" stroke-width="0" stroke-linejoin="miter"/>
<text x="269.20" y="289.65" font-size="8.1" text-anchor="start" fill="#222" font-weight="normal" stroke="#222" stroke-width="0.15" >500 nM</text>
<polygon points="262.70,296.20 265.80,299.30 262.70,302.40 259.60,299.30" fill="#b8702a" stroke="none" stroke-width="0" stroke-linejoin="miter"/>
<text x="269.20" y="302.20" font-size="8.1" text-anchor="start" fill="#222" font-weight="normal" stroke="#222" stroke-width="0.15" >1 µM</text>
<circle cx="262.70" cy="311.85" r="2.6" fill="none" stroke="#4caf3a" stroke-width="1.15"/>
<text x="269.20" y="314.75" font-size="8.1" text-anchor="start" fill="#222" font-weight="normal" stroke="#222" stroke-width="0.15" >2 µM</text>
<rect x="260.20" y="321.90" width="5.0" height="5.0" fill="none" stroke="#c0143c" stroke-width="1.15"/>
<text x="269.20" y="327.30" font-size="8.1" text-anchor="start" fill="#222" font-weight="normal" stroke="#222" stroke-width="0.15" >4 µM</text>
<polygon points="262.70,333.71 265.70,339.11 259.70,339.11" fill="none" stroke="#9f9de0" stroke-width="1.15" stroke-linejoin="miter"/>
<text x="269.20" y="339.85" font-size="8.1" text-anchor="start" fill="#222" font-weight="normal" stroke="#222" stroke-width="0.15" >10 µM</text>
<polygon points="262.70,352.74 265.70,347.34 259.70,347.34" fill="none" stroke="#5a3614" stroke-width="1.15" stroke-linejoin="miter"/>
<text x="269.20" y="352.40" font-size="8.1" text-anchor="start" fill="#222" font-weight="normal" stroke="#222" stroke-width="0.15" >25 µM</text>
<polygon points="262.70,358.95 265.80,362.05 262.70,365.15 259.60,362.05" fill="none" stroke="#98b070" stroke-width="1.15" stroke-linejoin="miter"/>
<text x="269.20" y="364.95" font-size="8.1" text-anchor="start" fill="#222" font-weight="normal" stroke="#222" stroke-width="0.15" >50 µM</text>
<text x="313.40" y="229.50" font-size="12.2" text-anchor="start" fill="#000" font-weight="bold" stroke="#000" stroke-width="0.15" >D</text>
<line x1="347.00" y1="253.50" x2="347.00" y2="386.70" stroke="#0a0a0a" stroke-width="1.2" />
<line x1="346.40" y1="386.10" x2="512.80" y2="386.10" stroke="#0a0a0a" stroke-width="1.2" />
<line x1="343.60" y1="375.20" x2="347.00" y2="375.20" stroke="#0a0a0a" stroke-width="1" />
<text x="340.90" y="378.10" font-size="8.3" text-anchor="end" fill="#222" font-weight="normal" stroke="#222" stroke-width="0.15" >0</text>
<line x1="343.60" y1="353.40" x2="347.00" y2="353.40" stroke="#0a0a0a" stroke-width="1" />
<text x="340.90" y="356.30" font-size="8.3" text-anchor="end" fill="#222" font-weight="normal" stroke="#222" stroke-width="0.15" >1</text>
<line x1="343.60" y1="331.60" x2="347.00" y2="331.60" stroke="#0a0a0a" stroke-width="1" />
<text x="340.90" y="334.50" font-size="8.3" text-anchor="end" fill="#222" font-weight="normal" stroke="#222" stroke-width="0.15" >2</text>
<line x1="343.60" y1="309.80" x2="347.00" y2="309.80" stroke="#0a0a0a" stroke-width="1" />
<text x="340.90" y="312.70" font-size="8.3" text-anchor="end" fill="#222" font-weight="normal" stroke="#222" stroke-width="0.15" >3</text>
<line x1="343.60" y1="288.00" x2="347.00" y2="288.00" stroke="#0a0a0a" stroke-width="1" />
<text x="340.90" y="290.90" font-size="8.3" text-anchor="end" fill="#222" font-weight="normal" stroke="#222" stroke-width="0.15" >4</text>
<line x1="343.60" y1="266.20" x2="347.00" y2="266.20" stroke="#0a0a0a" stroke-width="1" />
<text x="340.90" y="269.10" font-size="8.3" text-anchor="end" fill="#222" font-weight="normal" stroke="#222" stroke-width="0.15" >5</text>
<line x1="345.00" y1="386.10" x2="347.00" y2="386.10" stroke="#0a0a0a" stroke-width="1" />
<line x1="345.00" y1="364.30" x2="347.00" y2="364.30" stroke="#0a0a0a" stroke-width="1" />
<line x1="345.00" y1="342.50" x2="347.00" y2="342.50" stroke="#0a0a0a" stroke-width="1" />
<line x1="345.00" y1="320.70" x2="347.00" y2="320.70" stroke="#0a0a0a" stroke-width="1" />
<line x1="345.00" y1="298.90" x2="347.00" y2="298.90" stroke="#0a0a0a" stroke-width="1" />
<line x1="345.00" y1="277.10" x2="347.00" y2="277.10" stroke="#0a0a0a" stroke-width="1" />
<line x1="345.00" y1="255.30" x2="347.00" y2="255.30" stroke="#0a0a0a" stroke-width="1" />
<line x1="350.40" y1="386.10" x2="350.40" y2="389.30" stroke="#0a0a0a" stroke-width="1" />
<text x="350.40" y="400.20" font-size="8.3" text-anchor="middle" fill="#222" font-weight="normal" stroke="#222" stroke-width="0.15" >0</text>
<line x1="381.55" y1="386.10" x2="381.55" y2="389.30" stroke="#0a0a0a" stroke-width="1" />
<text x="381.55" y="400.20" font-size="8.3" text-anchor="middle" fill="#222" font-weight="normal" stroke="#222" stroke-width="0.15" >5</text>
<line x1="412.70" y1="386.10" x2="412.70" y2="389.30" stroke="#0a0a0a" stroke-width="1" />
<text x="412.70" y="400.20" font-size="8.3" text-anchor="middle" fill="#222" font-weight="normal" stroke="#222" stroke-width="0.15" >10</text>
<line x1="443.85" y1="386.10" x2="443.85" y2="389.30" stroke="#0a0a0a" stroke-width="1" />
<text x="443.85" y="400.20" font-size="8.3" text-anchor="middle" fill="#222" font-weight="normal" stroke="#222" stroke-width="0.15" >15</text>
<line x1="475.00" y1="386.10" x2="475.00" y2="389.30" stroke="#0a0a0a" stroke-width="1" />
<text x="475.00" y="400.20" font-size="8.3" text-anchor="middle" fill="#222" font-weight="normal" stroke="#222" stroke-width="0.15" >20</text>
<line x1="506.15" y1="386.10" x2="506.15" y2="389.30" stroke="#0a0a0a" stroke-width="1" />
<text x="506.15" y="400.20" font-size="8.3" text-anchor="middle" fill="#222" font-weight="normal" stroke="#222" stroke-width="0.15" >25</text>
<line x1="365.97" y1="386.10" x2="365.97" y2="388.30" stroke="#0a0a0a" stroke-width="1" />
<line x1="397.12" y1="386.10" x2="397.12" y2="388.30" stroke="#0a0a0a" stroke-width="1" />
<line x1="428.27" y1="386.10" x2="428.27" y2="388.30" stroke="#0a0a0a" stroke-width="1" />
<line x1="459.42" y1="386.10" x2="459.42" y2="388.30" stroke="#0a0a0a" stroke-width="1" />
<line x1="490.57" y1="386.10" x2="490.57" y2="388.30" stroke="#0a0a0a" stroke-width="1" />
<text x="430.00" y="413.30" font-size="10.4" text-anchor="middle" fill="#111" font-weight="normal" textLength="24.00" lengthAdjust="spacingAndGlyphs" stroke="#111" stroke-width="0.45" >K (µM)</text>
<text transform="translate(326.40,319.70) rotate(-90)" x="0" y="3.82" font-size="10.6" text-anchor="middle" fill="#111" font-weight="normal" textLength="31.00" lengthAdjust="spacingAndGlyphs" stroke="#111" stroke-width="0.45">IC50 (nM)</text>
<line x1="350.20" y1="378.60" x2="506.20" y2="281.00" stroke="#3a5a9c" stroke-width="1.1" />
<line x1="412.70" y1="339.23" x2="412.70" y2="347.95" stroke="#98a8cc" stroke-width="0.9" />
<line x1="411.20" y1="339.23" x2="414.20" y2="339.23" stroke="#98a8cc" stroke-width="0.9" />
<line x1="411.20" y1="347.95" x2="414.20" y2="347.95" stroke="#98a8cc" stroke-width="0.9" />
<line x1="506.15" y1="254.86" x2="506.15" y2="300.21" stroke="#98a8cc" stroke-width="0.9" />
<line x1="504.65" y1="254.86" x2="507.65" y2="254.86" stroke="#98a8cc" stroke-width="0.9" />
<line x1="504.65" y1="300.21" x2="507.65" y2="300.21" stroke="#98a8cc" stroke-width="0.9" />
<rect x="348.45" y="373.25" width="3.9" height="3.9" fill="#223f88" stroke="none" stroke-width="0"/>
<rect x="348.76" y="373.25" width="3.9" height="3.9" fill="#223f88" stroke="none" stroke-width="0"/>
<rect x="349.70" y="373.03" width="3.9" height="3.9" fill="#223f88" stroke="none" stroke-width="0"/>
<rect x="351.56" y="372.60" width="3.9" height="3.9" fill="#223f88" stroke="none" stroke-width="0"/>
<rect x="354.68" y="371.72" width="3.9" height="3.9" fill="#223f88" stroke="none" stroke-width="0"/>
<rect x="360.91" y="370.63" width="3.9" height="3.9" fill="#223f88" stroke="none" stroke-width="0"/>
<rect x="373.37" y="365.84" width="3.9" height="3.9" fill="#223f88" stroke="none" stroke-width="0"/>
<rect x="410.75" y="341.64" width="3.9" height="3.9" fill="#223f88" stroke="none" stroke-width="0"/>
<rect x="504.20" y="275.59" width="3.9" height="3.9" fill="#223f88" stroke="none" stroke-width="0"/>
<text x="8.00" y="442.60" font-size="12.2" text-anchor="start" fill="#000" font-weight="bold" stroke="#000" stroke-width="0.15" >E</text>
<line x1="56.60" y1="447.70" x2="56.60" y2="578.30" stroke="#0a0a0a" stroke-width="1.2" />
<line x1="56.00" y1="577.70" x2="252.60" y2="577.70" stroke="#0a0a0a" stroke-width="1.2" />
<line x1="53.20" y1="577.70" x2="56.60" y2="577.70" stroke="#0a0a0a" stroke-width="1" />
<text x="50.60" y="580.60" font-size="8.4" text-anchor="end" fill="#222" font-weight="normal" stroke="#222" stroke-width="0.15" >0%</text>
<line x1="53.20" y1="552.16" x2="56.60" y2="552.16" stroke="#0a0a0a" stroke-width="1" />
<text x="50.60" y="555.06" font-size="8.4" text-anchor="end" fill="#222" font-weight="normal" stroke="#222" stroke-width="0.15" >20%</text>
<line x1="53.20" y1="526.62" x2="56.60" y2="526.62" stroke="#0a0a0a" stroke-width="1" />
<text x="50.60" y="529.52" font-size="8.4" text-anchor="end" fill="#222" font-weight="normal" stroke="#222" stroke-width="0.15" >40%</text>
<line x1="53.20" y1="501.08" x2="56.60" y2="501.08" stroke="#0a0a0a" stroke-width="1" />
<text x="50.60" y="503.98" font-size="8.4" text-anchor="end" fill="#222" font-weight="normal" stroke="#222" stroke-width="0.15" >60%</text>
<line x1="53.20" y1="475.54" x2="56.60" y2="475.54" stroke="#0a0a0a" stroke-width="1" />
<text x="50.60" y="478.44" font-size="8.4" text-anchor="end" fill="#222" font-weight="normal" stroke="#222" stroke-width="0.15" >80%</text>
<line x1="53.20" y1="450.00" x2="56.60" y2="450.00" stroke="#0a0a0a" stroke-width="1" />
<text x="50.60" y="452.90" font-size="8.4" text-anchor="end" fill="#222" font-weight="normal" stroke="#222" stroke-width="0.15" >100%</text>
<line x1="56.60" y1="577.70" x2="56.60" y2="581.00" stroke="#0a0a0a" stroke-width="1" />
<text x="56.60" y="591.80" font-size="8.3" text-anchor="middle" fill="#222" font-weight="normal" stroke="#222" stroke-width="0.15" >0</text>
<line x1="95.20" y1="577.70" x2="95.20" y2="581.00" stroke="#0a0a0a" stroke-width="1" />
<text x="95.20" y="591.80" font-size="8.3" text-anchor="middle" fill="#222" font-weight="normal" stroke="#222" stroke-width="0.15" >5</text>
<line x1="133.80" y1="577.70" x2="133.80" y2="581.00" stroke="#0a0a0a" stroke-width="1" />
<text x="133.80" y="591.80" font-size="8.3" text-anchor="middle" fill="#222" font-weight="normal" stroke="#222" stroke-width="0.15" >10</text>
<line x1="172.40" y1="577.70" x2="172.40" y2="581.00" stroke="#0a0a0a" stroke-width="1" />
<text x="172.40" y="591.80" font-size="8.3" text-anchor="middle" fill="#222" font-weight="normal" stroke="#222" stroke-width="0.15" >15</text>
<line x1="211.00" y1="577.70" x2="211.00" y2="581.00" stroke="#0a0a0a" stroke-width="1" />
<text x="211.00" y="591.80" font-size="8.3" text-anchor="middle" fill="#222" font-weight="normal" stroke="#222" stroke-width="0.15" >20</text>
<line x1="249.60" y1="577.70" x2="249.60" y2="581.00" stroke="#0a0a0a" stroke-width="1" />
<text x="249.60" y="591.80" font-size="8.3" text-anchor="middle" fill="#222" font-weight="normal" stroke="#222" stroke-width="0.15" >25</text>
<text x="154.70" y="605.30" font-size="10.4" text-anchor="middle" fill="#111" font-weight="normal" textLength="23.10" lengthAdjust="spacingAndGlyphs" stroke="#111" stroke-width="0.45" >K (µM)</text>
<text transform="translate(20.40,512.50) rotate(-90)" x="0" y="3.60" font-size="10.0" text-anchor="middle" fill="#111" font-weight="normal" textLength="91.90" lengthAdjust="spacingAndGlyphs" stroke="#111" stroke-width="0.45">Relative carboxylation activity</text>
<line x1="91.70" y1="461.00" x2="91.70" y2="577.00" stroke="#111" stroke-width="1.15" stroke-dasharray="2,2.5"/>
<text x="78.00" y="454.00" font-size="7.8" text-anchor="start" fill="#222" font-weight="normal" textLength="24.80" lengthAdjust="spacingAndGlyphs" stroke="#222" stroke-width="0.15" >4 µM K</text>
<path d="M56.60,577.70 L56.80,574.31 L57.00,571.11 L57.19,568.09 L57.39,565.23 L57.59,562.52 L57.79,559.94 L57.99,557.50 L58.18,555.17 L58.38,552.96 L58.58,550.84 L58.78,548.82 L58.98,546.89 L59.17,545.05 L59.37,543.28 L59.57,541.59 L59.77,539.96 L59.97,538.40 L60.16,536.90 L60.36,535.46 L60.56,534.07 L60.76,532.73 L60.95,531.44 L61.15,530.20 L61.35,529.00 L61.55,527.84 L61.75,526.72 L61.94,525.64 L62.14,524.59 L62.34,523.58 L62.54,522.60 L62.74,521.65 L62.93,520.72 L63.13,519.83 L63.33,518.96 L63.53,518.12 L63.73,517.30 L63.92,516.51 L64.12,515.74 L64.32,514.99 L64.32,514.99 L67.46,505.36 L70.60,498.67 L73.74,493.75 L76.88,489.98 L80.02,487.00 L83.16,484.58 L86.30,482.58 L89.44,480.90 L92.58,479.47 L95.72,478.23 L98.86,477.16 L102.00,476.21 L105.14,475.37 L108.28,474.63 L111.43,473.95 L114.57,473.35 L117.71,472.80 L120.85,472.30 L123.99,471.84 L127.13,471.42 L130.27,471.03 L133.41,470.67 L136.55,470.34 L139.69,470.03 L142.83,469.74 L145.97,469.47 L149.11,469.22 L152.25,468.98 L155.39,468.76 L158.53,468.54 L161.67,468.35 L164.81,468.16 L167.95,467.98 L171.09,467.81 L174.23,467.65 L177.37,467.50 L180.51,467.36 L183.65,467.22 L186.79,467.09 L189.93,466.96 L193.07,466.84 L196.21,466.73 L199.35,466.62 L202.49,466.51 L205.64,466.41 L208.78,466.31 L211.92,466.22 L215.06,466.13 L218.20,466.04 L221.34,465.96 L224.48,465.88 L227.62,465.80 L230.76,465.73 L233.90,465.65 L237.04,465.58 L240.18,465.52 L243.32,465.45 L246.46,465.39 L249.60,465.33" stroke="#7cc257" stroke-width="1.2" fill="none" stroke-linejoin="round" />
<path d="M56.60,577.70 L56.80,574.00 L57.00,570.62 L57.19,567.54 L57.39,564.70 L57.59,562.08 L57.79,559.66 L57.99,557.41 L58.18,555.32 L58.38,553.37 L58.58,551.55 L58.78,549.85 L58.98,548.24 L59.17,546.74 L59.37,545.32 L59.57,543.98 L59.77,542.71 L59.97,541.51 L60.16,540.37 L60.36,539.29 L60.56,538.26 L60.76,537.28 L60.95,536.35 L61.15,535.46 L61.35,534.61 L61.55,533.80 L61.75,533.02 L61.94,532.28 L62.14,531.56 L62.34,530.88 L62.54,530.22 L62.74,529.59 L62.93,528.98 L63.13,528.39 L63.33,527.83 L63.53,527.28 L63.73,526.76 L63.92,526.25 L64.12,525.76 L64.32,525.28 L64.32,525.28 L67.46,519.45 L70.60,515.64 L73.74,512.96 L76.88,510.97 L80.02,509.43 L83.16,508.21 L86.30,507.21 L89.44,506.39 L92.58,505.69 L95.72,505.10 L98.86,504.58 L102.00,504.13 L105.14,503.74 L108.28,503.39 L111.43,503.07 L114.57,502.79 L117.71,502.54 L120.85,502.31 L123.99,502.10 L127.13,501.90 L130.27,501.72 L133.41,501.56 L136.55,501.41 L139.69,501.27 L142.83,501.14 L145.97,501.02 L149.11,500.90 L152.25,500.79 L155.39,500.69 L158.53,500.60 L161.67,500.51 L164.81,500.43 L167.95,500.35 L171.09,500.27 L174.23,500.20 L177.37,500.13 L180.51,500.07 L183.65,500.01 L186.79,499.95 L189.93,499.89 L193.07,499.84 L196.21,499.79 L199.35,499.74 L202.49,499.69 L205.64,499.65 L208.78,499.60 L211.92,499.56 L215.06,499.52 L218.20,499.48 L221.34,499.45 L224.48,499.41 L227.62,499.38 L230.76,499.35 L233.90,499.31 L237.04,499.28 L240.18,499.25 L243.32,499.22 L246.46,499.20 L249.60,499.17" stroke="#c8284e" stroke-width="1.2" fill="none" stroke-linejoin="round" />
<path d="M56.60,577.70 L56.80,577.50 L57.00,577.33 L57.19,577.18 L57.39,577.04 L57.59,576.90 L57.79,576.77 L57.99,576.64 L58.18,576.52 L58.38,576.39 L58.58,576.27 L58.78,576.15 L58.98,576.04 L59.17,575.92 L59.37,575.81 L59.57,575.69 L59.77,575.58 L59.97,575.47 L60.16,575.36 L60.36,575.25 L60.56,575.15 L60.76,575.04 L60.95,574.94 L61.15,574.83 L61.35,574.73 L61.55,574.63 L61.75,574.52 L61.94,574.42 L62.14,574.32 L62.34,574.22 L62.54,574.12 L62.74,574.02 L62.93,573.93 L63.13,573.83 L63.33,573.73 L63.53,573.64 L63.73,573.54 L63.92,573.44 L64.12,573.35 L64.32,573.26 L64.32,573.26 L67.46,571.82 L70.60,570.47 L73.74,569.19 L76.88,567.96 L80.02,566.78 L83.16,565.65 L86.30,564.55 L89.44,563.48 L92.58,562.45 L95.72,561.44 L98.86,560.46 L102.00,559.50 L105.14,558.57 L108.28,557.65 L111.43,556.76 L114.57,555.88 L117.71,555.03 L120.85,554.19 L123.99,553.37 L127.13,552.56 L130.27,551.77 L133.41,550.99 L136.55,550.22 L139.69,549.47 L142.83,548.73 L145.97,548.01 L149.11,547.29 L152.25,546.59 L155.39,545.90 L158.53,545.21 L161.67,544.54 L164.81,543.88 L167.95,543.23 L171.09,542.59 L174.23,541.96 L177.37,541.33 L180.51,540.72 L183.65,540.11 L186.79,539.51 L189.93,538.92 L193.07,538.34 L196.21,537.76 L199.35,537.20 L202.49,536.64 L205.64,536.08 L208.78,535.54 L211.92,535.00 L215.06,534.46 L218.20,533.94 L221.34,533.42 L224.48,532.90 L227.62,532.39 L230.76,531.89 L233.90,531.39 L237.04,530.90 L240.18,530.42 L243.32,529.94 L246.46,529.46 L249.60,528.99" stroke="#3a5ea6" stroke-width="1.2" fill="none" stroke-linejoin="round" />
<rect x="54.20" y="573.10" width="4.8" height="4.8" fill="#24498c" stroke="none" stroke-width="0"/>
<rect x="55.20" y="571.40" width="4.8" height="4.8" fill="#24498c" stroke="none" stroke-width="0"/>
<rect x="57.80" y="568.90" width="4.8" height="4.8" fill="#24498c" stroke="none" stroke-width="0"/>
<rect x="61.50" y="567.00" width="4.8" height="4.8" fill="#24498c" stroke="none" stroke-width="0"/>
<rect x="69.40" y="565.60" width="4.8" height="4.8" fill="#24498c" stroke="none" stroke-width="0"/>
<rect x="85.30" y="563.00" width="4.8" height="4.8" fill="#24498c" stroke="none" stroke-width="0"/>
<rect x="131.80" y="550.70" width="4.8" height="4.8" fill="#24498c" stroke="none" stroke-width="0"/>
<rect x="247.50" y="526.50" width="4.8" height="4.8" fill="#24498c" stroke="none" stroke-width="0"/>
<circle cx="56.90" cy="561.10" r="2.5" fill="#66b23e" stroke="none" stroke-width="0"/>
<circle cx="57.90" cy="557.00" r="2.5" fill="#66b23e" stroke="none" stroke-width="0"/>
<circle cx="57.90" cy="543.50" r="2.5" fill="#66b23e" stroke="none" stroke-width="0"/>
<circle cx="61.10" cy="536.10" r="2.5" fill="#66b23e" stroke="none" stroke-width="0"/>
<circle cx="64.60" cy="520.80" r="2.5" fill="#66b23e" stroke="none" stroke-width="0"/>
<circle cx="72.00" cy="500.80" r="2.5" fill="#66b23e" stroke="none" stroke-width="0"/>
<circle cx="87.80" cy="490.60" r="2.5" fill="#66b23e" stroke="none" stroke-width="0"/>
<circle cx="133.90" cy="478.20" r="2.5" fill="#66b23e" stroke="none" stroke-width="0"/>
<circle cx="249.90" cy="450.40" r="2.5" fill="#66b23e" stroke="none" stroke-width="0"/>
<polygon points="56.90,570.79 59.50,575.47 54.30,575.47" fill="#b0103a" stroke="none" stroke-width="0" stroke-linejoin="miter"/>
<polygon points="56.90,566.59 59.50,571.27 54.30,571.27" fill="#b0103a" stroke="none" stroke-width="0" stroke-linejoin="miter"/>
<polygon points="56.90,562.89 59.50,567.57 54.30,567.57" fill="#b0103a" stroke="none" stroke-width="0" stroke-linejoin="miter"/>
<polygon points="57.40,558.79 60.00,563.47 54.80,563.47" fill="#b0103a" stroke="none" stroke-width="0" stroke-linejoin="miter"/>
<polygon points="58.30,547.19 60.90,551.87 55.70,551.87" fill="#b0103a" stroke="none" stroke-width="0" stroke-linejoin="miter"/>
<polygon points="61.10,540.29 63.70,544.97 58.50,544.97" fill="#b0103a" stroke="none" stroke-width="0" stroke-linejoin="miter"/>
<polygon points="64.40,526.39 67.00,531.07 61.80,531.07" fill="#b0103a" stroke="none" stroke-width="0" stroke-linejoin="miter"/>
<polygon points="72.00,508.69 74.60,513.37 69.40,513.37" fill="#b0103a" stroke="none" stroke-width="0" stroke-linejoin="miter"/>
<polygon points="87.80,501.79 90.40,506.47 85.20,506.47" fill="#b0103a" stroke="none" stroke-width="0" stroke-linejoin="miter"/>
<polygon points="133.90,500.39 136.50,505.07 131.30,505.07" fill="#b0103a" stroke="none" stroke-width="0" stroke-linejoin="miter"/>
<polygon points="249.90,497.49 252.50,502.17 247.30,502.17" fill="#b0103a" stroke="none" stroke-width="0" stroke-linejoin="miter"/>
<line x1="259.20" y1="451.90" x2="272.70" y2="451.90" stroke="#7cc257" stroke-width="1.1" />
<circle cx="265.90" cy="451.90" r="2.6" fill="#66b23e" stroke="none" stroke-width="0"/>
<text x="276.00" y="454.40" font-size="7.9" text-anchor="start" fill="#222" font-weight="normal" textLength="15.00" lengthAdjust="spacingAndGlyphs" stroke="#222" stroke-width="0.15" >Total</text>
<line x1="259.20" y1="464.40" x2="272.70" y2="464.40" stroke="#c8284e" stroke-width="1.1" />
<polygon points="265.90,460.94 269.10,466.70 262.70,466.70" fill="#b0103a" stroke="none" stroke-width="0" stroke-linejoin="miter"/>
<text x="276.00" y="466.90" font-size="7.9" text-anchor="start" fill="#222" font-weight="normal" textLength="30.30" lengthAdjust="spacingAndGlyphs" stroke="#222" stroke-width="0.15" >VKORC1</text>
<line x1="259.20" y1="476.50" x2="272.70" y2="476.50" stroke="#3a5ea6" stroke-width="1.1" />
<rect x="263.40" y="474.00" width="5.0" height="5.0" fill="#24498c" stroke="none" stroke-width="0"/>
<text x="276.00" y="479.00" font-size="7.9" text-anchor="start" fill="#222" font-weight="normal" textLength="57.70" lengthAdjust="spacingAndGlyphs" stroke="#222" stroke-width="0.15" >Unknown enzyme</text>
</svg></div></body></html>
